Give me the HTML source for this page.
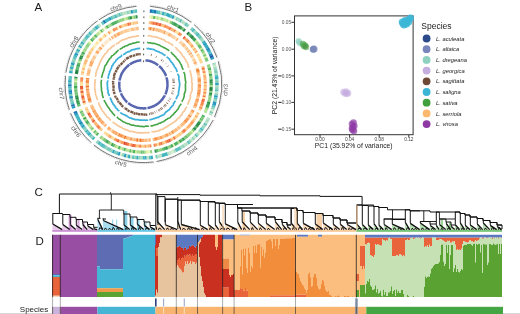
<!DOCTYPE html>
<html><head><meta charset="utf-8"><style>
html,body{margin:0;padding:0;background:#fff;width:520px;height:314px;overflow:hidden}
svg{display:block;filter:blur(0.3px)}
text{font-family:"Liberation Sans",sans-serif}
</style></head><body>
<svg width="520" height="314" viewBox="0 0 520 314">
<rect width="520" height="314" fill="#fff"/>
<text x="34.5" y="11" font-size="11.5" fill="#1a1a1a">A</text>
<text x="244.4" y="10.7" font-size="11.5" fill="#1a1a1a">B</text>
<text x="34.6" y="196.2" font-size="11.5" fill="#1a1a1a">C</text>
<text x="35.4" y="244.9" font-size="11.5" fill="#1a1a1a">D</text>
<path fill="none" stroke="#2073b2" stroke-width="3.5" d="M149.81 11.03A73.55 73.55 0 0 1 152.05 11.26M153.98 11.51A73.55 73.55 0 0 1 156.2 11.87M75.82 113.34A73.55 73.55 0 0 1 75.01 111.35M73.22 106.32A73.55 73.55 0 0 1 72.6 104.22M69.88 86.36A73.55 73.55 0 0 1 69.85 84.18M103.49 22.52A73.55 73.55 0 0 1 105.41 21.32"/>
<path fill="none" stroke="#269ac1" stroke-width="3.5" d="M151.9 11.24A73.55 73.55 0 0 1 154.13 11.54M172.12 16.59A73.55 73.55 0 0 1 174.18 17.5M204.4 43.2A73.55 73.55 0 0 1 205.58 45.01M211.85 57.39A73.55 73.55 0 0 1 212.61 59.41M216.94 83.07A73.55 73.55 0 0 1 216.94 85.28M216.11 95.38A73.55 73.55 0 0 1 215.75 97.56M214.93 101.44A73.55 73.55 0 0 1 214.38 103.58M214.42 103.43A73.55 73.55 0 0 1 213.81 105.56M126.19 155.81A73.55 73.55 0 0 1 124.04 155.26M120.23 154.1A73.55 73.55 0 0 1 118.13 153.37M83.65 127.19A73.55 73.55 0 0 1 82.43 125.43M76.64 115.16A73.55 73.55 0 0 1 75.76 113.2M73.86 108.25A73.55 73.55 0 0 1 73.18 106.17M70.55 94.45A73.55 73.55 0 0 1 70.28 92.28M72.42 65.02A73.55 73.55 0 0 1 73.04 62.86M75.86 55.18A73.55 73.55 0 0 1 76.78 53.14M108.93 19.33A73.55 73.55 0 0 1 110.94 18.3M130.73 11.85A73.55 73.55 0 0 1 132.96 11.49"/>
<path fill="none" stroke="#46b8c3" stroke-width="3.5" d="M156.05 11.85A73.55 73.55 0 0 1 158.26 12.27M192.58 29.61A73.55 73.55 0 0 1 194.16 31.08M196.89 33.81A73.55 73.55 0 0 1 198.35 35.41M202.24 128.43A73.55 73.55 0 0 1 200.88 130.19M167.68 153.73A73.55 73.55 0 0 1 165.57 154.43M165.71 154.38A73.55 73.55 0 0 1 163.58 155.03M163.73 154.98A73.55 73.55 0 0 1 161.59 155.57M144.63 157.84A73.55 73.55 0 0 1 142.41 157.84M103.49 146.08A73.55 73.55 0 0 1 101.65 144.85M100.09 143.74A73.55 73.55 0 0 1 98.31 142.41M94.28 139.04A73.55 73.55 0 0 1 92.7 137.59M87.34 131.91A73.55 73.55 0 0 1 85.97 130.25M82.51 125.56A73.55 73.55 0 0 1 81.33 123.76M79.36 120.48A73.55 73.55 0 0 1 78.33 118.59M78.41 118.73A73.55 73.55 0 0 1 77.43 116.82M77.5 116.96A73.55 73.55 0 0 1 76.57 115.02M69.96 88.39A73.55 73.55 0 0 1 69.87 86.21M75.06 57.11A73.55 73.55 0 0 1 75.92 55.04M86.71 37.44A73.55 73.55 0 0 1 88.16 35.74M89.46 34.3A73.55 73.55 0 0 1 91 32.68M105.27 21.4A73.55 73.55 0 0 1 107.22 20.26M107.09 20.34A73.55 73.55 0 0 1 109.07 19.25M114.63 16.61A73.55 73.55 0 0 1 116.72 15.76"/>
<path fill="none" stroke="#60c2c0" stroke-width="3.5" d="M158.11 12.24A73.55 73.55 0 0 1 160.31 12.72M170.18 15.8A73.55 73.55 0 0 1 172.26 16.65M179.65 20.3A73.55 73.55 0 0 1 181.59 21.44M184.99 23.63A73.55 73.55 0 0 1 186.82 24.94M209.42 51.88A73.55 73.55 0 0 1 210.34 53.83M216.34 74.86A73.55 73.55 0 0 1 216.59 77.05M216.78 89.24A73.55 73.55 0 0 1 216.6 91.44M215.77 97.41A73.55 73.55 0 0 1 215.35 99.58M213.85 105.41A73.55 73.55 0 0 1 213.19 107.52M205.75 123.32A73.55 73.55 0 0 1 204.54 125.18M196.91 134.76A73.55 73.55 0 0 1 195.36 136.36M189.3 141.77A73.55 73.55 0 0 1 187.55 143.13M180.79 147.64A73.55 73.55 0 0 1 178.86 148.74M179 148.66A73.55 73.55 0 0 1 177.03 149.71M177.17 149.64A73.55 73.55 0 0 1 175.18 150.63M150.82 157.47A73.55 73.55 0 0 1 148.61 157.67M134.32 157.29A73.55 73.55 0 0 1 132.12 156.98M118.27 153.42A73.55 73.55 0 0 1 116.2 152.63M105.25 147.18A73.55 73.55 0 0 1 103.36 146M101.77 144.94A73.55 73.55 0 0 1 99.96 143.65M88.65 133.41A73.55 73.55 0 0 1 87.24 131.79M72.64 104.37A73.55 73.55 0 0 1 72.08 102.26M70.1 90.41A73.55 73.55 0 0 1 69.96 88.24M69.85 84.33A73.55 73.55 0 0 1 69.88 82.15M69.96 80.27A73.55 73.55 0 0 1 70.11 78.1M70.1 78.25A73.55 73.55 0 0 1 70.31 76.08M74.32 59.05A73.55 73.55 0 0 1 75.12 56.96M85.4 39.07A73.55 73.55 0 0 1 86.81 37.32M97.06 27.18A73.55 73.55 0 0 1 98.82 25.8M101.74 23.69A73.55 73.55 0 0 1 103.62 22.44M110.81 18.37A73.55 73.55 0 0 1 112.84 17.4M118.55 15.08A73.55 73.55 0 0 1 120.68 14.35M134.9 11.24A73.55 73.55 0 0 1 137.14 11.02"/>
<path fill="none" stroke="#a7dbc2" stroke-width="3.5" d="M160.16 12.69A73.55 73.55 0 0 1 162.35 13.23M177.8 19.29A73.55 73.55 0 0 1 179.78 20.38M194.05 30.97A73.55 73.55 0 0 1 195.6 32.48M200.83 38.36A73.55 73.55 0 0 1 202.16 40.06M202.07 39.94A73.55 73.55 0 0 1 203.34 41.68M213.74 62.8A73.55 73.55 0 0 1 214.35 64.92M214.83 66.77A73.55 73.55 0 0 1 215.32 68.92M216.05 72.82A73.55 73.55 0 0 1 216.36 75.01M216.95 85.12A73.55 73.55 0 0 1 216.89 87.34M207.84 119.75A73.55 73.55 0 0 1 206.74 121.68M204.63 125.05A73.55 73.55 0 0 1 203.37 126.89M198.31 133.24A73.55 73.55 0 0 1 196.8 134.87M182.56 146.56A73.55 73.55 0 0 1 180.66 147.71M142.56 157.85A73.55 73.55 0 0 1 140.34 157.79M128.2 156.26A73.55 73.55 0 0 1 126.04 155.77M92.38 31.33A73.55 73.55 0 0 1 94.01 29.8M128.67 12.24A73.55 73.55 0 0 1 130.89 11.82"/>
<path fill="none" stroke="#35aac3" stroke-width="3.5" d="M162.2 13.19A73.55 73.55 0 0 1 164.37 13.8M166.23 14.38A73.55 73.55 0 0 1 168.36 15.11M168.21 15.06A73.55 73.55 0 0 1 170.32 15.85M203.25 41.56A73.55 73.55 0 0 1 204.48 43.33M205.5 44.88A73.55 73.55 0 0 1 206.63 46.73M206.55 46.59A73.55 73.55 0 0 1 207.63 48.46M208.51 50.09A73.55 73.55 0 0 1 209.49 52.02M216.58 76.9A73.55 73.55 0 0 1 216.77 79.11M152.87 157.24A73.55 73.55 0 0 1 150.67 157.49M146.7 157.78A73.55 73.55 0 0 1 144.48 157.84M138.43 157.68A73.55 73.55 0 0 1 136.22 157.5M130.23 156.66A73.55 73.55 0 0 1 128.05 156.23M114.43 151.9A73.55 73.55 0 0 1 112.4 151M90 134.87A73.55 73.55 0 0 1 88.54 133.29M80.37 122.2A73.55 73.55 0 0 1 79.29 120.34M69.88 82.3A73.55 73.55 0 0 1 69.97 80.12M70.7 73.17A73.55 73.55 0 0 1 71.07 70.97M71.44 69.07A73.55 73.55 0 0 1 71.94 66.89M77.62 51.4A73.55 73.55 0 0 1 78.65 49.41M79.59 47.72A73.55 73.55 0 0 1 80.74 45.79M81.77 44.16A73.55 73.55 0 0 1 83.02 42.3M95.46 28.52A73.55 73.55 0 0 1 97.18 27.08"/>
<path fill="none" stroke="#7acbbc" stroke-width="3.5" d="M164.22 13.76A73.55 73.55 0 0 1 166.37 14.43M191.07 28.29A73.55 73.55 0 0 1 192.69 29.71M195.49 32.37A73.55 73.55 0 0 1 196.99 33.93M198.24 35.29A73.55 73.55 0 0 1 199.66 36.92M199.56 36.81A73.55 73.55 0 0 1 200.93 38.48M215.7 70.79A73.55 73.55 0 0 1 216.07 72.97M216.88 81.01A73.55 73.55 0 0 1 216.94 83.22M216.39 93.34A73.55 73.55 0 0 1 216.09 95.53M211.84 111.25A73.55 73.55 0 0 1 210.99 113.29M157.7 156.45A73.55 73.55 0 0 1 155.51 156.85M116.34 152.69A73.55 73.55 0 0 1 114.29 151.84M110.68 150.17A73.55 73.55 0 0 1 108.7 149.15M108.84 149.22A73.55 73.55 0 0 1 106.89 148.15M91.39 136.3A73.55 73.55 0 0 1 89.89 134.76M84.84 128.8A73.55 73.55 0 0 1 83.56 127.07M72.12 102.41A73.55 73.55 0 0 1 71.61 100.29M71.64 100.44A73.55 73.55 0 0 1 71.19 98.3M70.86 96.46A73.55 73.55 0 0 1 70.53 94.3M71.9 67.04A73.55 73.55 0 0 1 72.46 64.87M73 63.01A73.55 73.55 0 0 1 73.68 60.88M76.71 53.27A73.55 73.55 0 0 1 77.69 51.26M88.06 35.85A73.55 73.55 0 0 1 89.56 34.19M93.9 29.9A73.55 73.55 0 0 1 95.58 28.42M112.7 17.46A73.55 73.55 0 0 1 114.77 16.55M132.81 11.52A73.55 73.55 0 0 1 135.05 11.23"/>
<path fill="none" stroke="#d5efcf" stroke-width="3.5" d="M174.04 17.44A73.55 73.55 0 0 1 176.07 18.41M212.56 109.32A73.55 73.55 0 0 1 211.78 111.39M199.66 131.67A73.55 73.55 0 0 1 198.2 133.35M173.44 151.43A73.55 73.55 0 0 1 171.4 152.31M122.2 154.73A73.55 73.55 0 0 1 120.08 154.06"/>
<path fill="none" stroke="#91d3be" stroke-width="3.5" d="M175.94 18.34A73.55 73.55 0 0 1 177.94 19.37M186.7 24.85A73.55 73.55 0 0 1 188.5 26.2M215.29 68.77A73.55 73.55 0 0 1 215.73 70.94M216.76 78.95A73.55 73.55 0 0 1 216.88 81.16M216.89 87.18A73.55 73.55 0 0 1 216.77 89.39M215.38 99.43A73.55 73.55 0 0 1 214.89 101.59M213.24 107.38A73.55 73.55 0 0 1 212.51 109.47M203.46 126.76A73.55 73.55 0 0 1 202.15 128.56M200.97 130.07A73.55 73.55 0 0 1 199.56 131.79M193.99 137.69A73.55 73.55 0 0 1 192.35 139.2M190.9 140.45A73.55 73.55 0 0 1 189.18 141.86M184.3 145.43A73.55 73.55 0 0 1 182.43 146.64M140.5 157.79A73.55 73.55 0 0 1 138.28 157.67M136.37 157.51A73.55 73.55 0 0 1 134.17 157.27M124.18 155.3A73.55 73.55 0 0 1 122.05 154.68M112.54 151.06A73.55 73.55 0 0 1 110.54 150.1M107.03 148.23A73.55 73.55 0 0 1 105.11 147.1M98.43 142.5A73.55 73.55 0 0 1 96.7 141.12M92.82 137.69A73.55 73.55 0 0 1 91.28 136.19M86.07 130.37A73.55 73.55 0 0 1 84.74 128.68M71.04 71.12A73.55 73.55 0 0 1 71.48 68.92M73.63 61.02A73.55 73.55 0 0 1 74.37 58.91M80.65 45.92A73.55 73.55 0 0 1 81.85 44.03M82.93 42.43A73.55 73.55 0 0 1 84.23 40.61M84.14 40.73A73.55 73.55 0 0 1 85.5 38.95M90.9 32.79A73.55 73.55 0 0 1 92.49 31.22M116.58 15.82A73.55 73.55 0 0 1 118.69 15.02M120.54 14.39A73.55 73.55 0 0 1 122.69 13.73M126.61 12.69A73.55 73.55 0 0 1 128.82 12.21"/>
<path fill="none" stroke="#bae2c6" stroke-width="3.5" d="M181.46 21.36A73.55 73.55 0 0 1 183.37 22.56M183.24 22.47A73.55 73.55 0 0 1 185.11 23.72M216.62 91.29A73.55 73.55 0 0 1 216.37 93.49M211.05 113.15A73.55 73.55 0 0 1 210.16 115.17M208.82 117.92A73.55 73.55 0 0 1 207.77 119.88M206.82 121.55A73.55 73.55 0 0 1 205.67 123.45M187.67 143.03A73.55 73.55 0 0 1 185.87 144.35M186 144.26A73.55 73.55 0 0 1 184.17 145.52M175.32 150.56A73.55 73.55 0 0 1 173.3 151.5M169.62 153.02A73.55 73.55 0 0 1 167.53 153.78M161.74 155.53A73.55 73.55 0 0 1 159.58 156.05M159.73 156.02A73.55 73.55 0 0 1 157.55 156.48M148.76 157.65A73.55 73.55 0 0 1 146.54 157.78M132.27 157A73.55 73.55 0 0 1 130.08 156.63M122.54 13.77A73.55 73.55 0 0 1 124.72 13.16M124.57 13.2A73.55 73.55 0 0 1 126.76 12.66"/>
<path fill="none" stroke="#1e88bc" stroke-width="3.5" d="M207.55 48.33A73.55 73.55 0 0 1 208.58 50.23M210.28 53.69A73.55 73.55 0 0 1 211.15 55.67M81.42 123.89A73.55 73.55 0 0 1 80.29 122.07M71.22 98.45A73.55 73.55 0 0 1 70.84 96.3M70.3 92.43A73.55 73.55 0 0 1 70.09 90.26"/>
<path fill="none" stroke="#225ea8" stroke-width="3.5" d="M211.09 55.53A73.55 73.55 0 0 1 211.91 57.53"/>
<path fill="none" stroke="#c7e9ca" stroke-width="3.5" d="M214.31 64.77A73.55 73.55 0 0 1 214.87 66.92M195.47 136.25A73.55 73.55 0 0 1 193.87 137.8M192.46 139.09A73.55 73.55 0 0 1 190.79 140.55M171.54 152.25A73.55 73.55 0 0 1 169.48 153.07M78.58 49.54A73.55 73.55 0 0 1 79.67 47.59M98.7 25.89A73.55 73.55 0 0 1 100.5 24.56"/>
<path fill="none" stroke="#eaf7b6" stroke-width="3.2" d="M149.31 16.76A67.8 67.8 0 0 1 151.37 16.97M168.08 21.15A67.8 67.8 0 0 1 170.01 21.94M150.24 151.75A67.8 67.8 0 0 1 148.2 151.93"/>
<path fill="none" stroke="#ceeb9e" stroke-width="3.2" d="M151.23 16.95A67.8 67.8 0 0 1 153.29 17.23M155.06 17.51A67.8 67.8 0 0 1 157.1 17.9M164.44 19.85A67.8 67.8 0 0 1 166.41 20.52M195.17 40.52A67.8 67.8 0 0 1 196.43 42.06M200.64 47.97A67.8 67.8 0 0 1 201.68 49.66M203.42 52.77A67.8 67.8 0 0 1 204.32 54.54M192.73 130.82A67.8 67.8 0 0 1 191.3 132.29M136.92 151.79A67.8 67.8 0 0 1 134.89 151.56M122.04 148.65A67.8 67.8 0 0 1 120.1 147.97M118.46 147.34A67.8 67.8 0 0 1 116.56 146.56M90.55 126.77A67.8 67.8 0 0 1 89.33 125.21M79.08 62.84A67.8 67.8 0 0 1 79.77 60.89M124.18 19.28A67.8 67.8 0 0 1 126.18 18.72"/>
<path fill="none" stroke="#66bd70" stroke-width="3.2" d="M153.15 17.21A67.8 67.8 0 0 1 155.2 17.54M176.81 25.3A67.8 67.8 0 0 1 178.6 26.36M188.73 33.89A67.8 67.8 0 0 1 190.2 35.24M198.58 44.9A67.8 67.8 0 0 1 199.71 46.54M199.63 46.42A67.8 67.8 0 0 1 200.72 48.09M201.61 49.54A67.8 67.8 0 0 1 202.61 51.27M210.43 94.51A67.8 67.8 0 0 1 210.09 96.52M201.86 118.63A67.8 67.8 0 0 1 200.8 120.39M196.47 126.49A67.8 67.8 0 0 1 195.17 128.08M187.19 136.06A67.8 67.8 0 0 1 185.6 137.36M182.67 139.57A67.8 67.8 0 0 1 180.98 140.73M163.97 148.9A67.8 67.8 0 0 1 162.01 149.5M158.45 150.41A67.8 67.8 0 0 1 156.44 150.83M142.63 152.1A67.8 67.8 0 0 1 140.58 152.04M131.26 151A67.8 67.8 0 0 1 129.25 150.61M114.95 145.84A67.8 67.8 0 0 1 113.11 144.96M106.61 141.25A67.8 67.8 0 0 1 104.91 140.12M95.45 132.24A67.8 67.8 0 0 1 94.07 130.82M81.86 112.75A67.8 67.8 0 0 1 81.05 110.94M79.29 106.37A67.8 67.8 0 0 1 78.67 104.46M76.02 91.8A67.8 67.8 0 0 1 75.82 89.79M77.07 70.26A67.8 67.8 0 0 1 77.53 68.25M77.49 68.39A67.8 67.8 0 0 1 78.01 66.39M78.5 64.68A67.8 67.8 0 0 1 79.13 62.71M100.69 31.65A67.8 67.8 0 0 1 102.31 30.37M116.88 21.9A67.8 67.8 0 0 1 118.81 21.12M127.92 18.29A67.8 67.8 0 0 1 129.96 17.85"/>
<path fill="none" stroke="#bce395" stroke-width="3.2" d="M156.96 17.87A67.8 67.8 0 0 1 158.99 18.32M162.59 19.27A67.8 67.8 0 0 1 164.58 19.89M166.27 20.47A67.8 67.8 0 0 1 168.22 21.2M206.49 109.14A67.8 67.8 0 0 1 205.71 111.03M205.77 110.9A67.8 67.8 0 0 1 204.94 112.76M146.44 152.03A67.8 67.8 0 0 1 144.39 152.09M129.39 150.64A67.8 67.8 0 0 1 127.39 150.18M111.54 144.15A67.8 67.8 0 0 1 109.75 143.16M103.47 139.1A67.8 67.8 0 0 1 101.84 137.87M88.78 44.14A67.8 67.8 0 0 1 90.02 42.49M96.37 35.47A67.8 67.8 0 0 1 97.87 34.06M97.77 34.15A67.8 67.8 0 0 1 99.32 32.79M102.2 30.46A67.8 67.8 0 0 1 103.86 29.23M105 28.42A67.8 67.8 0 0 1 106.73 27.27M131.72 17.51A67.8 67.8 0 0 1 133.78 17.19"/>
<path fill="none" stroke="#def2a8" stroke-width="3.2" d="M158.85 18.28A67.8 67.8 0 0 1 160.87 18.79M205.05 56.09A67.8 67.8 0 0 1 205.85 57.91M174.53 144.53A67.8 67.8 0 0 1 172.7 145.44M148.34 151.92A67.8 67.8 0 0 1 146.3 152.04M84.37 117.65A67.8 67.8 0 0 1 83.42 115.91M81.11 111.07A67.8 67.8 0 0 1 80.35 109.24M75.63 82.46A67.8 67.8 0 0 1 75.71 80.45M99.21 32.88A67.8 67.8 0 0 1 100.8 31.56"/>
<path fill="none" stroke="#92d284" stroke-width="3.2" d="M160.73 18.75A67.8 67.8 0 0 1 162.73 19.31M169.88 21.88A67.8 67.8 0 0 1 171.77 22.72M202.54 51.14A67.8 67.8 0 0 1 203.49 52.89M208.24 64.48A67.8 67.8 0 0 1 208.8 66.44M208.77 66.3A67.8 67.8 0 0 1 209.28 68.27M210.64 75.59A67.8 67.8 0 0 1 210.87 77.62M210.86 77.48A67.8 67.8 0 0 1 211.03 79.51M210.89 90.74A67.8 67.8 0 0 1 210.67 92.77M210.11 96.38A67.8 67.8 0 0 1 209.72 98.38M209.75 98.25A67.8 67.8 0 0 1 209.3 100.23M209.33 100.1A67.8 67.8 0 0 1 208.83 102.07M207.16 107.36A67.8 67.8 0 0 1 206.43 109.27M200.87 120.27A67.8 67.8 0 0 1 199.76 121.99M190.03 133.52A67.8 67.8 0 0 1 188.52 134.9M188.63 134.81A67.8 67.8 0 0 1 187.08 136.15M169.34 146.94A67.8 67.8 0 0 1 167.44 147.7M162.14 149.46A67.8 67.8 0 0 1 160.17 149.99M160.3 149.96A67.8 67.8 0 0 1 158.31 150.44M152.13 151.54A67.8 67.8 0 0 1 150.1 151.77M101.95 137.95A67.8 67.8 0 0 1 100.35 136.68M82.65 114.4A67.8 67.8 0 0 1 81.8 112.62M75.63 86.2A67.8 67.8 0 0 1 75.6 84.19M75.6 84.33A67.8 67.8 0 0 1 75.63 82.32M84.58 50.58A67.8 67.8 0 0 1 85.63 48.8M86.59 47.3A67.8 67.8 0 0 1 87.74 45.59M87.66 45.7A67.8 67.8 0 0 1 88.86 44.02M109.93 25.34A67.8 67.8 0 0 1 111.75 24.34M118.67 21.17A67.8 67.8 0 0 1 120.62 20.44M120.49 20.49A67.8 67.8 0 0 1 122.46 19.82M122.32 19.86A67.8 67.8 0 0 1 124.31 19.24"/>
<path fill="none" stroke="#4fb264" stroke-width="3.2" d="M171.65 22.66A67.8 67.8 0 0 1 173.52 23.56M209.25 68.14A67.8 67.8 0 0 1 209.7 70.12M211.19 83.16A67.8 67.8 0 0 1 211.19 85.2M203.7 115.29A67.8 67.8 0 0 1 202.74 117.1M177.87 142.68A67.8 67.8 0 0 1 176.09 143.7M176.21 143.63A67.8 67.8 0 0 1 174.41 144.6M165.78 148.3A67.8 67.8 0 0 1 163.83 148.95M135.03 151.58A67.8 67.8 0 0 1 133 151.3M125.69 149.75A67.8 67.8 0 0 1 123.72 149.18M120.24 148.02A67.8 67.8 0 0 1 118.32 147.29M98.12 134.76A67.8 67.8 0 0 1 96.67 133.42M88.32 123.84A67.8 67.8 0 0 1 87.19 122.22M87.27 122.33A67.8 67.8 0 0 1 86.19 120.68M77.69 101A67.8 67.8 0 0 1 77.22 99.04M91.14 41.11A67.8 67.8 0 0 1 92.48 39.53M95 36.82A67.8 67.8 0 0 1 96.47 35.37M106.61 27.35A67.8 67.8 0 0 1 108.38 26.25M111.63 24.41A67.8 67.8 0 0 1 113.48 23.46M113.35 23.52A67.8 67.8 0 0 1 115.23 22.63M115.1 22.69A67.8 67.8 0 0 1 117.01 21.85"/>
<path fill="none" stroke="#3ca459" stroke-width="3.2" d="M173.39 23.49A67.8 67.8 0 0 1 175.24 24.44M175.12 24.38A67.8 67.8 0 0 1 176.94 25.37M190.09 35.14A67.8 67.8 0 0 1 191.52 36.53M192.7 37.76A67.8 67.8 0 0 1 194.05 39.23M193.96 39.12A67.8 67.8 0 0 1 195.26 40.63M210.37 73.72A67.8 67.8 0 0 1 210.66 75.74M208.35 103.76A67.8 67.8 0 0 1 207.73 105.71M207.78 105.57A67.8 67.8 0 0 1 207.11 107.5M184.21 138.44A67.8 67.8 0 0 1 182.55 139.65M181.1 140.65A67.8 67.8 0 0 1 179.38 141.77M172.82 145.38A67.8 67.8 0 0 1 170.96 146.24M113.24 145.02A67.8 67.8 0 0 1 111.42 144.08M108.23 142.26A67.8 67.8 0 0 1 106.49 141.18M85.29 119.24A67.8 67.8 0 0 1 84.3 117.53M78.71 104.6A67.8 67.8 0 0 1 78.14 102.67M75.7 88.07A67.8 67.8 0 0 1 75.62 86.06M77.97 66.52A67.8 67.8 0 0 1 78.54 64.54M82.76 53.97A67.8 67.8 0 0 1 83.71 52.14"/>
<path fill="none" stroke="#238443" stroke-width="3.2" d="M178.48 26.28A67.8 67.8 0 0 1 180.24 27.38M183.31 29.49A67.8 67.8 0 0 1 184.97 30.74M187.34 32.67A67.8 67.8 0 0 1 188.84 33.98M191.42 36.43A67.8 67.8 0 0 1 192.8 37.86M211.15 86.96A67.8 67.8 0 0 1 211.04 88.99M211.05 88.85A67.8 67.8 0 0 1 210.88 90.89M198.76 123.44A67.8 67.8 0 0 1 197.55 125.1M195.26 127.97A67.8 67.8 0 0 1 193.92 129.52M77.25 99.18A67.8 67.8 0 0 1 76.84 97.21M76.38 74.04A67.8 67.8 0 0 1 76.72 72.01M76.7 72.15A67.8 67.8 0 0 1 77.1 70.12M80.4 59.23A67.8 67.8 0 0 1 81.2 57.32"/>
<path fill="none" stroke="#30944e" stroke-width="3.2" d="M180.12 27.31A67.8 67.8 0 0 1 181.85 28.46M211.02 79.37A67.8 67.8 0 0 1 211.14 81.41M211.13 81.27A67.8 67.8 0 0 1 211.19 83.3M210.69 92.63A67.8 67.8 0 0 1 210.41 94.65M208.87 101.94A67.8 67.8 0 0 1 208.31 103.9M199.84 121.87A67.8 67.8 0 0 1 198.68 123.56M197.64 124.98A67.8 67.8 0 0 1 196.38 126.6M167.57 147.65A67.8 67.8 0 0 1 165.64 148.35M156.58 150.81A67.8 67.8 0 0 1 154.57 151.17M78.17 102.8A67.8 67.8 0 0 1 77.65 100.86M76.87 97.35A67.8 67.8 0 0 1 76.51 95.36M75.83 78.72A67.8 67.8 0 0 1 76.03 76.72M81.14 57.45A67.8 67.8 0 0 1 81.99 55.57M129.82 17.87A67.8 67.8 0 0 1 131.86 17.49M135.56 16.95A67.8 67.8 0 0 1 137.63 16.75"/>
<path fill="none" stroke="#7cc87b" stroke-width="3.2" d="M181.73 28.38A67.8 67.8 0 0 1 183.43 29.58M204.26 54.42A67.8 67.8 0 0 1 205.11 56.22M205.8 57.78A67.8 67.8 0 0 1 206.55 59.62M206.5 59.49A67.8 67.8 0 0 1 207.2 61.36M202.81 116.98A67.8 67.8 0 0 1 201.79 118.76M194.01 129.41A67.8 67.8 0 0 1 192.63 130.92M185.72 137.27A67.8 67.8 0 0 1 184.1 138.53M171.09 146.19A67.8 67.8 0 0 1 169.21 146.99M144.53 152.09A67.8 67.8 0 0 1 142.49 152.09M109.87 143.23A67.8 67.8 0 0 1 108.11 142.19M105.03 140.2A67.8 67.8 0 0 1 103.36 139.01M92.93 129.57A67.8 67.8 0 0 1 91.63 128.08M83.49 116.04A67.8 67.8 0 0 1 82.59 114.28M76.53 95.5A67.8 67.8 0 0 1 76.23 93.51M76.25 93.66A67.8 67.8 0 0 1 76 91.66M75.83 89.94A67.8 67.8 0 0 1 75.7 87.93M79.72 61.03A67.8 67.8 0 0 1 80.46 59.1M81.93 55.7A67.8 67.8 0 0 1 82.83 53.84M92.39 39.64A67.8 67.8 0 0 1 93.77 38.11M133.64 17.21A67.8 67.8 0 0 1 135.7 16.94"/>
<path fill="none" stroke="#a9db8c" stroke-width="3.2" d="M196.34 41.95A67.8 67.8 0 0 1 197.57 43.52M197.48 43.41A67.8 67.8 0 0 1 198.66 45.01M209.67 69.99A67.8 67.8 0 0 1 210.07 71.99M210.05 71.85A67.8 67.8 0 0 1 210.39 73.86M211.2 85.06A67.8 67.8 0 0 1 211.14 87.1M191.4 132.19A67.8 67.8 0 0 1 189.93 133.61M179.5 141.69A67.8 67.8 0 0 1 177.75 142.76M140.72 152.05A67.8 67.8 0 0 1 138.68 151.94M138.82 151.95A67.8 67.8 0 0 1 136.78 151.78M133.14 151.32A67.8 67.8 0 0 1 131.12 150.98M127.53 150.22A67.8 67.8 0 0 1 125.55 149.71M123.85 149.22A67.8 67.8 0 0 1 121.9 148.6M116.69 146.62A67.8 67.8 0 0 1 114.82 145.78M96.77 133.52A67.8 67.8 0 0 1 95.35 132.14M91.72 128.18A67.8 67.8 0 0 1 90.46 126.66M89.42 125.32A67.8 67.8 0 0 1 88.24 123.73M86.26 120.8A67.8 67.8 0 0 1 85.22 119.12M75.7 80.59A67.8 67.8 0 0 1 75.84 78.58M83.65 52.26A67.8 67.8 0 0 1 84.65 50.46M85.56 48.93A67.8 67.8 0 0 1 86.66 47.18M93.67 38.21A67.8 67.8 0 0 1 95.1 36.72M108.26 26.32A67.8 67.8 0 0 1 110.05 25.27M126.04 18.76A67.8 67.8 0 0 1 128.06 18.26"/>
<path fill="none" stroke="#f7fcc4" stroke-width="3.2" d="M94.17 130.92A67.8 67.8 0 0 1 92.83 129.46M89.94 42.6A67.8 67.8 0 0 1 91.23 41"/>
<path fill="none" stroke="#febf7a" stroke-width="3" d="M148.79 22.64A61.9 61.9 0 0 1 150.68 22.83M162.61 25.46A61.9 61.9 0 0 1 164.4 26.07M188.41 41.81A61.9 61.9 0 0 1 189.64 43.15M190.66 44.33A61.9 61.9 0 0 1 191.82 45.73M202.6 66.2A61.9 61.9 0 0 1 203.11 67.99M203.52 69.54A61.9 61.9 0 0 1 203.93 71.36M201.61 105.36A61.9 61.9 0 0 1 200.95 107.1M198.45 112.59A61.9 61.9 0 0 1 197.57 114.25M193.94 120.03A61.9 61.9 0 0 1 192.84 121.55M180.66 133.73A61.9 61.9 0 0 1 179.15 134.84M176.36 136.7A61.9 61.9 0 0 1 174.76 137.67M142.7 146.2A61.9 61.9 0 0 1 140.83 146.15M139.22 146.06A61.9 61.9 0 0 1 137.36 145.9M137.49 145.92A61.9 61.9 0 0 1 135.63 145.71M130.61 144.86A61.9 61.9 0 0 1 128.79 144.45M120.63 141.86A61.9 61.9 0 0 1 118.9 141.14M100.83 129.24A61.9 61.9 0 0 1 99.53 127.97M97.32 125.63A61.9 61.9 0 0 1 96.13 124.27M95.15 123.07A61.9 61.9 0 0 1 94.04 121.65M88.7 113.28A61.9 61.9 0 0 1 87.88 111.67M87.21 110.27A61.9 61.9 0 0 1 86.48 108.62M83.85 101.19A61.9 61.9 0 0 1 83.37 99.42M82.35 94.53A61.9 61.9 0 0 1 82.07 92.71M81.88 91.15A61.9 61.9 0 0 1 81.7 89.32M82.5 73.21A61.9 61.9 0 0 1 82.87 71.36M84.68 64.71A61.9 61.9 0 0 1 85.31 62.93M85.26 63.05A61.9 61.9 0 0 1 85.93 61.29M87.28 58.19A61.9 61.9 0 0 1 88.1 56.49M88.04 56.61A61.9 61.9 0 0 1 88.91 54.93M89.7 53.51A61.9 61.9 0 0 1 90.66 51.89M99.21 40.95A61.9 61.9 0 0 1 100.55 39.63M100.46 39.72A61.9 61.9 0 0 1 101.84 38.43M104.4 36.23A61.9 61.9 0 0 1 105.89 35.06M120.83 26.66A61.9 61.9 0 0 1 122.61 26M124.16 25.47A61.9 61.9 0 0 1 125.97 24.9M125.85 24.94A61.9 61.9 0 0 1 127.68 24.43M132.74 23.32A61.9 61.9 0 0 1 134.62 23.03M136.24 22.82A61.9 61.9 0 0 1 138.13 22.62"/>
<path fill="none" stroke="#fa9d5e" stroke-width="3" d="M150.55 22.81A61.9 61.9 0 0 1 152.43 23.06M165.94 26.65A61.9 61.9 0 0 1 167.69 27.37M167.57 27.31A61.9 61.9 0 0 1 169.31 28.08M179.84 34.26A61.9 61.9 0 0 1 181.36 35.4M186.03 39.42A61.9 61.9 0 0 1 187.33 40.69M191.74 45.63A61.9 61.9 0 0 1 192.85 47.07M195.66 51.13A61.9 61.9 0 0 1 196.61 52.68M205.16 88.46A61.9 61.9 0 0 1 205.01 90.31M196.78 115.65A61.9 61.9 0 0 1 195.8 117.25M192.92 121.44A61.9 61.9 0 0 1 191.77 122.92M191.85 122.82A61.9 61.9 0 0 1 190.67 124.27M185.97 129.23A61.9 61.9 0 0 1 184.6 130.5M183.38 131.56A61.9 61.9 0 0 1 181.93 132.74M171.82 139.29A61.9 61.9 0 0 1 170.15 140.12M157.14 144.66A61.9 61.9 0 0 1 155.31 145.04M146.17 146.14A61.9 61.9 0 0 1 144.31 146.19M123.9 143.05A61.9 61.9 0 0 1 122.13 142.43M122.25 142.48A61.9 61.9 0 0 1 120.51 141.81M115.86 139.74A61.9 61.9 0 0 1 114.2 138.88M111.29 137.22A61.9 61.9 0 0 1 109.71 136.23M93.12 120.4A61.9 61.9 0 0 1 92.08 118.92M82.66 96.21A61.9 61.9 0 0 1 82.33 94.4M108.34 33.29A61.9 61.9 0 0 1 109.92 32.23M114.39 29.62A61.9 61.9 0 0 1 116.08 28.75M115.97 28.81A61.9 61.9 0 0 1 117.68 27.99"/>
<path fill="none" stroke="#f17140" stroke-width="3" d="M152.3 23.04A61.9 61.9 0 0 1 154.18 23.35M169.19 28.03A61.9 61.9 0 0 1 170.9 28.84M203.08 67.87A61.9 61.9 0 0 1 203.55 69.67M204.31 95.33A61.9 61.9 0 0 1 203.95 97.16M203.6 98.72A61.9 61.9 0 0 1 203.14 100.53M203.17 100.4A61.9 61.9 0 0 1 202.66 102.19M184.69 130.41A61.9 61.9 0 0 1 183.28 131.64M174.87 137.6A61.9 61.9 0 0 1 173.24 138.53M168.68 140.8A61.9 61.9 0 0 1 166.97 141.54M162.18 143.28A61.9 61.9 0 0 1 160.39 143.82M135.76 145.73A61.9 61.9 0 0 1 133.91 145.47M128.91 144.48A61.9 61.9 0 0 1 127.1 144.02M127.55 24.46A61.9 61.9 0 0 1 129.4 24"/>
<path fill="none" stroke="#f6874e" stroke-width="3" d="M154.05 23.32A61.9 61.9 0 0 1 155.91 23.68M157.51 24.03A61.9 61.9 0 0 1 159.35 24.49M164.28 26.03A61.9 61.9 0 0 1 166.06 26.7M173.9 30.44A61.9 61.9 0 0 1 175.54 31.4M178.4 33.24A61.9 61.9 0 0 1 179.95 34.34M187.24 40.6A61.9 61.9 0 0 1 188.5 41.9M203.9 71.23A61.9 61.9 0 0 1 204.27 73.06M205.24 81.53A61.9 61.9 0 0 1 205.29 83.39M204.83 91.91A61.9 61.9 0 0 1 204.57 93.75M202.7 102.07A61.9 61.9 0 0 1 202.13 103.84M202.17 103.72A61.9 61.9 0 0 1 201.56 105.48M201 106.98A61.9 61.9 0 0 1 200.29 108.7M167.09 141.49A61.9 61.9 0 0 1 165.35 142.18M160.51 143.79A61.9 61.9 0 0 1 158.71 144.28M155.44 145.02A61.9 61.9 0 0 1 153.6 145.35M151.37 145.68A61.9 61.9 0 0 1 149.52 145.9M140.96 146.15A61.9 61.9 0 0 1 139.09 146.05M132.32 145.2A61.9 61.9 0 0 1 130.48 144.84M117.43 140.49A61.9 61.9 0 0 1 115.74 139.68M99.63 128.07A61.9 61.9 0 0 1 98.37 126.77M98.46 126.86A61.9 61.9 0 0 1 97.23 125.53M91.24 117.62A61.9 61.9 0 0 1 90.28 116.09M90.35 116.2A61.9 61.9 0 0 1 89.44 114.63M83.41 99.54A61.9 61.9 0 0 1 82.98 97.76M81.59 80.91A61.9 61.9 0 0 1 81.72 79.08M81.71 79.21A61.9 61.9 0 0 1 81.89 77.38M112.84 30.47A61.9 61.9 0 0 1 114.51 29.56M119.19 27.33A61.9 61.9 0 0 1 120.95 26.62M129.27 24.03A61.9 61.9 0 0 1 131.13 23.63"/>
<path fill="none" stroke="#e85b35" stroke-width="3" d="M155.78 23.65A61.9 61.9 0 0 1 157.63 24.06M159.22 24.46A61.9 61.9 0 0 1 161.05 24.97M183.52 37.16A61.9 61.9 0 0 1 184.89 38.36M170.26 140.07A61.9 61.9 0 0 1 168.57 140.85M134.03 145.49A61.9 61.9 0 0 1 132.19 145.18M127.23 144.05A61.9 61.9 0 0 1 125.43 143.53M119.02 141.2A61.9 61.9 0 0 1 117.31 140.43M94.11 121.75A61.9 61.9 0 0 1 93.04 120.3M89.51 114.75A61.9 61.9 0 0 1 88.64 113.16M84.34 102.83A61.9 61.9 0 0 1 83.81 101.07M83.01 97.88A61.9 61.9 0 0 1 82.63 96.08M82.09 92.84A61.9 61.9 0 0 1 81.87 91.02M81.71 89.45A61.9 61.9 0 0 1 81.59 87.61M81.6 87.74A61.9 61.9 0 0 1 81.52 85.91"/>
<path fill="none" stroke="#fdb16e" stroke-width="3" d="M160.92 24.93A61.9 61.9 0 0 1 162.73 25.5M170.78 28.79A61.9 61.9 0 0 1 172.47 29.65M172.36 29.59A61.9 61.9 0 0 1 174.02 30.5M184.79 38.27A61.9 61.9 0 0 1 186.12 39.51M193.77 48.33A61.9 61.9 0 0 1 194.81 49.82M204.54 74.64A61.9 61.9 0 0 1 204.8 76.48M204.79 76.35A61.9 61.9 0 0 1 205 78.2M204.99 78.07A61.9 61.9 0 0 1 205.15 79.93M205.3 84.99A61.9 61.9 0 0 1 205.25 86.86M190.75 124.17A61.9 61.9 0 0 1 189.52 125.58M189.61 125.49A61.9 61.9 0 0 1 188.34 126.86M188.43 126.77A61.9 61.9 0 0 1 187.13 128.11M163.83 142.73A61.9 61.9 0 0 1 162.06 143.32M149.64 145.88A61.9 61.9 0 0 1 147.78 146.04M109.82 136.3A61.9 61.9 0 0 1 108.26 135.26M96.22 124.37A61.9 61.9 0 0 1 95.07 122.97M81.52 82.62A61.9 61.9 0 0 1 81.6 80.78M83.23 69.77A61.9 61.9 0 0 1 83.7 67.95M85.89 61.41A61.9 61.9 0 0 1 86.61 59.67"/>
<path fill="none" stroke="#ffe2a0" stroke-width="3" d="M175.43 31.33A61.9 61.9 0 0 1 177.04 32.34M176.93 32.27A61.9 61.9 0 0 1 178.51 33.32M192.77 46.97A61.9 61.9 0 0 1 193.85 48.43M198.2 55.51A61.9 61.9 0 0 1 199.02 57.13M198.96 57.02A61.9 61.9 0 0 1 199.74 58.66M203.98 97.03A61.9 61.9 0 0 1 203.57 98.85M195.87 117.14A61.9 61.9 0 0 1 194.86 118.71M114.31 138.94A61.9 61.9 0 0 1 112.68 138.04M105.56 133.28A61.9 61.9 0 0 1 104.09 132.12M81.52 86.04A61.9 61.9 0 0 1 81.5 84.2M81.5 84.33A61.9 61.9 0 0 1 81.53 82.49M82.84 71.48A61.9 61.9 0 0 1 83.26 69.64M83.67 68.07A61.9 61.9 0 0 1 84.19 66.26M84.15 66.38A61.9 61.9 0 0 1 84.72 64.59M86.56 59.79A61.9 61.9 0 0 1 87.33 58.07M92.51 49.06A61.9 61.9 0 0 1 93.61 47.53M96.83 43.53A61.9 61.9 0 0 1 98.09 42.13M103.06 37.35A61.9 61.9 0 0 1 104.5 36.15M109.81 32.3A61.9 61.9 0 0 1 111.42 31.3"/>
<path fill="none" stroke="#fecd87" stroke-width="3" d="M189.56 43.05A61.9 61.9 0 0 1 190.75 44.43M194.74 49.71A61.9 61.9 0 0 1 195.73 51.24M197.39 54.03A61.9 61.9 0 0 1 198.26 55.63M205.14 79.8A61.9 61.9 0 0 1 205.24 81.66M205.29 83.26A61.9 61.9 0 0 1 205.29 85.12M205.25 86.73A61.9 61.9 0 0 1 205.15 88.59M205.02 90.18A61.9 61.9 0 0 1 204.81 92.03M204.59 93.62A61.9 61.9 0 0 1 204.29 95.46M200.34 108.58A61.9 61.9 0 0 1 199.58 110.28M194.93 118.6A61.9 61.9 0 0 1 193.87 120.14M187.22 128.02A61.9 61.9 0 0 1 185.88 129.32M179.25 134.76A61.9 61.9 0 0 1 177.71 135.82M177.82 135.75A61.9 61.9 0 0 1 176.25 136.77M173.36 138.47A61.9 61.9 0 0 1 171.71 139.35M165.47 142.13A61.9 61.9 0 0 1 163.71 142.77M147.91 146.04A61.9 61.9 0 0 1 146.04 146.14M144.44 146.19A61.9 61.9 0 0 1 142.57 146.19M102.06 130.37A61.9 61.9 0 0 1 100.73 129.15M92.16 119.02A61.9 61.9 0 0 1 91.17 117.51M88.85 55.05A61.9 61.9 0 0 1 89.76 53.4M91.53 50.52A61.9 61.9 0 0 1 92.58 48.96M134.49 23.04A61.9 61.9 0 0 1 136.37 22.8"/>
<path fill="none" stroke="#fff7d0" stroke-width="3" d="M196.55 52.57A61.9 61.9 0 0 1 197.46 54.14M94.59 46.23A61.9 61.9 0 0 1 95.77 44.76M98 42.22A61.9 61.9 0 0 1 99.3 40.86M111.31 31.37A61.9 61.9 0 0 1 112.95 30.41"/>
<path fill="none" stroke="#fed894" stroke-width="3" d="M199.69 58.54A61.9 61.9 0 0 1 200.42 60.21M200.37 60.09A61.9 61.9 0 0 1 201.05 61.77M201.01 61.65A61.9 61.9 0 0 1 201.65 63.35M204.25 72.93A61.9 61.9 0 0 1 204.56 74.77M197.64 114.13A61.9 61.9 0 0 1 196.71 115.76M182.03 132.66A61.9 61.9 0 0 1 180.55 133.81M158.83 144.25A61.9 61.9 0 0 1 157.01 144.68M112.79 138.1A61.9 61.9 0 0 1 111.18 137.15M108.37 135.33A61.9 61.9 0 0 1 106.84 134.25M106.95 134.33A61.9 61.9 0 0 1 105.45 133.2M87.94 111.78A61.9 61.9 0 0 1 87.16 110.15M86.53 108.74A61.9 61.9 0 0 1 85.84 107.07M84.87 104.45A61.9 61.9 0 0 1 84.3 102.71M82.21 74.94A61.9 61.9 0 0 1 82.53 73.08M90.59 52A61.9 61.9 0 0 1 91.6 50.41M122.48 26.04A61.9 61.9 0 0 1 124.28 25.43M131 23.65A61.9 61.9 0 0 1 132.87 23.3"/>
<path fill="none" stroke="#e0452a" stroke-width="3" d="M125.56 143.57A61.9 61.9 0 0 1 123.77 143.01"/>
<path fill="none" stroke="#ffeaaf" stroke-width="3" d="M93.53 47.63A61.9 61.9 0 0 1 94.67 46.13M95.69 44.86A61.9 61.9 0 0 1 96.91 43.43"/>
<path fill="none" stroke="#fff1bf" stroke-width="3" d="M101.74 38.52A61.9 61.9 0 0 1 103.15 37.27M105.78 35.14A61.9 61.9 0 0 1 107.3 34.02M117.57 28.05A61.9 61.9 0 0 1 119.31 27.28"/>
<path fill="none" stroke="#fdb06e" stroke-width="3.3" d="M148.29 28.46A56.05 56.05 0 0 1 149.99 28.64M156.18 29.73A56.05 56.05 0 0 1 157.84 30.14M168.19 34.03A56.05 56.05 0 0 1 169.72 34.82M176.4 38.99A56.05 56.05 0 0 1 177.77 40.02M183.1 44.73A56.05 56.05 0 0 1 184.24 45.91M188.11 50.49A56.05 56.05 0 0 1 189.08 51.82M198.99 77.1A56.05 56.05 0 0 1 199.18 78.78M199.44 83.36A56.05 56.05 0 0 1 199.45 85.05M199.32 88.06A56.05 56.05 0 0 1 199.18 89.74M192.51 111.31A56.05 56.05 0 0 1 191.67 112.78M185.24 121.59A56.05 56.05 0 0 1 184.1 122.84M183.08 123.89A56.05 56.05 0 0 1 181.86 125.07M177.14 129.06A56.05 56.05 0 0 1 175.77 130.06M170.53 133.35A56.05 56.05 0 0 1 169.03 134.15M166.3 135.46A56.05 56.05 0 0 1 164.74 136.13M158.9 138.17A56.05 56.05 0 0 1 157.26 138.61M150.62 139.88A56.05 56.05 0 0 1 148.94 140.08M144.34 140.34A56.05 56.05 0 0 1 142.65 140.34M127.24 137.97A56.05 56.05 0 0 1 125.63 137.46M115.68 133.02A56.05 56.05 0 0 1 114.22 132.16M110.39 129.6A56.05 56.05 0 0 1 109.04 128.58M109.13 128.65A56.05 56.05 0 0 1 107.81 127.6M105.97 126.02A56.05 56.05 0 0 1 104.77 124.91M103.76 123.93A56.05 56.05 0 0 1 102.62 122.76M101.67 121.72A56.05 56.05 0 0 1 100.6 120.49M100.67 120.58A56.05 56.05 0 0 1 99.63 119.32M97 115.74A56.05 56.05 0 0 1 96.1 114.37M95.36 113.18A56.05 56.05 0 0 1 94.54 111.77M92.52 107.82A56.05 56.05 0 0 1 91.86 106.32M90.4 102.55A56.05 56.05 0 0 1 89.89 100.97M88.12 93.56A56.05 56.05 0 0 1 87.87 91.92M87.89 92.03A56.05 56.05 0 0 1 87.68 90.38M90.23 66.56A56.05 56.05 0 0 1 90.8 64.95M90.76 65.06A56.05 56.05 0 0 1 91.37 63.47M96.43 53.71A56.05 56.05 0 0 1 97.39 52.3M111.65 38.11A56.05 56.05 0 0 1 113.09 37.16M118.56 34.05A56.05 56.05 0 0 1 120.11 33.32"/>
<path fill="none" stroke="#f3873c" stroke-width="3.3" d="M149.88 28.63A56.05 56.05 0 0 1 151.58 28.85M153.04 29.09A56.05 56.05 0 0 1 154.73 29.41M199.45 84.93A56.05 56.05 0 0 1 199.4 86.61M198.81 92.74A56.05 56.05 0 0 1 198.53 94.4M190.06 115.36A56.05 56.05 0 0 1 189.1 116.75M186.28 120.4A56.05 56.05 0 0 1 185.16 121.68M173.24 131.74A56.05 56.05 0 0 1 171.79 132.63M119.88 135.18A56.05 56.05 0 0 1 118.36 134.44M89.92 101.08A56.05 56.05 0 0 1 89.45 99.48M89.48 99.6A56.05 56.05 0 0 1 89.05 97.99M87.54 79.69A56.05 56.05 0 0 1 87.7 78.03"/>
<path fill="none" stroke="#fdc68d" stroke-width="3.3" d="M151.46 28.83A56.05 56.05 0 0 1 153.16 29.11M157.73 30.11A56.05 56.05 0 0 1 159.38 30.58M160.79 31.02A56.05 56.05 0 0 1 162.42 31.58M162.31 31.54A56.05 56.05 0 0 1 163.92 32.14M182 43.66A56.05 56.05 0 0 1 183.18 44.81M193.71 59.6A56.05 56.05 0 0 1 194.42 61.08M197 67.91A56.05 56.05 0 0 1 197.47 69.53M198.19 72.47A56.05 56.05 0 0 1 198.52 74.12M198.5 74A56.05 56.05 0 0 1 198.78 75.67M199.39 81.79A56.05 56.05 0 0 1 199.44 83.48M194.96 106.29A56.05 56.05 0 0 1 194.27 107.83M190.91 114.03A56.05 56.05 0 0 1 189.99 115.45M189.17 116.66A56.05 56.05 0 0 1 188.17 118.03M181.95 124.99A56.05 56.05 0 0 1 180.7 126.13M171.9 132.57A56.05 56.05 0 0 1 170.42 133.4M169.14 134.09A56.05 56.05 0 0 1 167.62 134.85M164.85 136.08A56.05 56.05 0 0 1 163.27 136.71M154.3 139.28A56.05 56.05 0 0 1 152.63 139.58M139.61 140.22A56.05 56.05 0 0 1 137.93 140.08M133.36 139.44A56.05 56.05 0 0 1 131.7 139.12M130.28 138.79A56.05 56.05 0 0 1 128.64 138.37M118.46 134.5A56.05 56.05 0 0 1 116.96 133.72M112.99 131.38A56.05 56.05 0 0 1 111.58 130.44M98.77 118.21A56.05 56.05 0 0 1 97.8 116.89M91.9 106.43A56.05 56.05 0 0 1 91.28 104.92M87.54 88.96A56.05 56.05 0 0 1 87.43 87.3M87.37 85.87A56.05 56.05 0 0 1 87.35 84.21M87.35 84.32A56.05 56.05 0 0 1 87.37 82.66M87.99 75.82A56.05 56.05 0 0 1 88.28 74.14M109.34 39.79A56.05 56.05 0 0 1 110.71 38.77M120.01 33.36A56.05 56.05 0 0 1 121.58 32.67M121.47 32.72A56.05 56.05 0 0 1 123.07 32.07M124.46 31.55A56.05 56.05 0 0 1 126.09 30.99M125.98 31.03A56.05 56.05 0 0 1 127.62 30.52M130.61 29.73A56.05 56.05 0 0 1 132.29 29.36M135.33 28.83A56.05 56.05 0 0 1 137.04 28.61"/>
<path fill="none" stroke="#fdd09f" stroke-width="3.3" d="M154.61 29.38A56.05 56.05 0 0 1 156.29 29.75M171.02 35.53A56.05 56.05 0 0 1 172.5 36.4M172.4 36.34A56.05 56.05 0 0 1 173.86 37.25M173.76 37.18A56.05 56.05 0 0 1 175.19 38.14M179.73 41.62A56.05 56.05 0 0 1 180.97 42.7M184.16 45.83A56.05 56.05 0 0 1 185.27 47.04M194.37 60.98A56.05 56.05 0 0 1 195.03 62.48M197.91 97.36A56.05 56.05 0 0 1 197.49 98.99M191.73 112.68A56.05 56.05 0 0 1 190.85 114.13M178.38 128.09A56.05 56.05 0 0 1 177.04 129.13M149.05 140.06A56.05 56.05 0 0 1 147.37 140.21M104.85 124.99A56.05 56.05 0 0 1 103.68 123.85M92.58 60.66A56.05 56.05 0 0 1 93.32 59.12M93.27 59.22A56.05 56.05 0 0 1 94.06 57.71M115.73 35.56A56.05 56.05 0 0 1 117.24 34.73M122.96 32.11A56.05 56.05 0 0 1 124.57 31.51M127.51 30.55A56.05 56.05 0 0 1 129.16 30.09M133.75 29.09A56.05 56.05 0 0 1 135.45 28.82"/>
<path fill="none" stroke="#fdbb7e" stroke-width="3.3" d="M159.27 30.54A56.05 56.05 0 0 1 160.91 31.05M169.62 34.76A56.05 56.05 0 0 1 171.12 35.59M186.2 48.11A56.05 56.05 0 0 1 187.24 49.38M191.52 55.56A56.05 56.05 0 0 1 192.35 56.99M198.25 95.83A56.05 56.05 0 0 1 197.88 97.47M196.62 101.88A56.05 56.05 0 0 1 196.07 103.48M184.18 122.76A56.05 56.05 0 0 1 183 123.97M179.6 127.09A56.05 56.05 0 0 1 178.29 128.17M175.86 129.99A56.05 56.05 0 0 1 174.47 130.95M174.57 130.89A56.05 56.05 0 0 1 173.14 131.81M163.38 136.67A56.05 56.05 0 0 1 161.79 137.25M160.4 137.71A56.05 56.05 0 0 1 158.78 138.2M147.48 140.2A56.05 56.05 0 0 1 145.79 140.3M145.91 140.29A56.05 56.05 0 0 1 144.22 140.34M136.48 139.92A56.05 56.05 0 0 1 134.8 139.69M134.92 139.7A56.05 56.05 0 0 1 133.25 139.42M128.76 138.4A56.05 56.05 0 0 1 127.13 137.94M124.25 136.98A56.05 56.05 0 0 1 122.67 136.38M93.87 110.54A56.05 56.05 0 0 1 93.13 109.08M93.18 109.19A56.05 56.05 0 0 1 92.47 107.71M88.26 74.25A56.05 56.05 0 0 1 88.59 72.58M88.56 72.69A56.05 56.05 0 0 1 88.94 71.03M88.92 71.14A56.05 56.05 0 0 1 89.34 69.49M91.93 62.11A56.05 56.05 0 0 1 92.63 60.55M94 57.81A56.05 56.05 0 0 1 94.83 56.32M99.2 49.83A56.05 56.05 0 0 1 100.27 48.5M102.29 46.2A56.05 56.05 0 0 1 103.47 44.97M132.17 29.39A56.05 56.05 0 0 1 133.86 29.07M136.92 28.63A56.05 56.05 0 0 1 138.63 28.45"/>
<path fill="none" stroke="#fba35e" stroke-width="3.3" d="M163.81 32.1A56.05 56.05 0 0 1 165.39 32.75M189.88 52.98A56.05 56.05 0 0 1 190.78 54.36M194.98 62.38A56.05 56.05 0 0 1 195.61 63.9M199.41 86.5A56.05 56.05 0 0 1 199.32 88.18M198.55 94.29A56.05 56.05 0 0 1 198.23 95.94M197.09 100.39A56.05 56.05 0 0 1 196.58 102M196.11 103.37A56.05 56.05 0 0 1 195.51 104.94M195.55 104.84A56.05 56.05 0 0 1 194.91 106.39M188.24 117.93A56.05 56.05 0 0 1 187.2 119.27M187.27 119.18A56.05 56.05 0 0 1 186.2 120.49M117.06 133.78A56.05 56.05 0 0 1 115.58 132.96M114.32 132.22A56.05 56.05 0 0 1 112.89 131.32M102.7 122.84A56.05 56.05 0 0 1 101.6 121.64M96.17 114.47A56.05 56.05 0 0 1 95.3 113.08M89.08 98.1A56.05 56.05 0 0 1 88.69 96.48M88.72 96.6A56.05 56.05 0 0 1 88.37 94.97M91.32 63.58A56.05 56.05 0 0 1 91.98 62M97.32 52.39A56.05 56.05 0 0 1 98.31 51M100.2 48.59A56.05 56.05 0 0 1 101.3 47.29M114.35 36.37A56.05 56.05 0 0 1 115.83 35.5M117.13 34.79A56.05 56.05 0 0 1 118.67 34"/>
<path fill="none" stroke="#fedab1" stroke-width="3.3" d="M165.29 32.7A56.05 56.05 0 0 1 166.86 33.39M166.75 33.35A56.05 56.05 0 0 1 168.3 34.08M180.88 42.62A56.05 56.05 0 0 1 182.09 43.74M185.19 46.95A56.05 56.05 0 0 1 186.27 48.2M187.17 49.29A56.05 56.05 0 0 1 188.18 50.59M189.01 51.73A56.05 56.05 0 0 1 189.95 53.08M190.72 54.26A56.05 56.05 0 0 1 191.58 55.67M193.02 58.23A56.05 56.05 0 0 1 193.76 59.7M198.76 75.55A56.05 56.05 0 0 1 199 77.22M180.79 126.06A56.05 56.05 0 0 1 179.51 127.17M111.68 130.51A56.05 56.05 0 0 1 110.3 129.53M89.31 69.6A56.05 56.05 0 0 1 89.78 67.96M112.99 37.22A56.05 56.05 0 0 1 114.45 36.31M129.05 30.12A56.05 56.05 0 0 1 130.72 29.7"/>
<path fill="none" stroke="#fee3c1" stroke-width="3.3" d="M175.09 38.07A56.05 56.05 0 0 1 176.49 39.06M192.29 56.89A56.05 56.05 0 0 1 193.07 58.34M195.56 63.79A56.05 56.05 0 0 1 196.14 65.33M94.77 56.42A56.05 56.05 0 0 1 95.65 54.96M98.24 51.1A56.05 56.05 0 0 1 99.27 49.74M105.68 42.84A56.05 56.05 0 0 1 106.96 41.71"/>
<path fill="none" stroke="#ed7624" stroke-width="3.3" d="M197.44 69.42A56.05 56.05 0 0 1 197.86 71.05M141.19 140.31A56.05 56.05 0 0 1 139.5 140.21M138.04 140.09A56.05 56.05 0 0 1 136.36 139.91M125.74 137.5A56.05 56.05 0 0 1 124.14 136.94M87.44 87.42A56.05 56.05 0 0 1 87.37 85.75M87.37 82.78A56.05 56.05 0 0 1 87.44 81.12"/>
<path fill="none" stroke="#f8964e" stroke-width="3.3" d="M197.83 70.94A56.05 56.05 0 0 1 198.21 72.58M199.17 78.66A56.05 56.05 0 0 1 199.31 80.34M199.3 80.23A56.05 56.05 0 0 1 199.4 81.91M199.2 89.63A56.05 56.05 0 0 1 199.01 91.3M199.03 91.19A56.05 56.05 0 0 1 198.79 92.86M197.52 98.88A56.05 56.05 0 0 1 197.06 100.5M193.25 109.92A56.05 56.05 0 0 1 192.45 111.42M167.73 134.8A56.05 56.05 0 0 1 166.19 135.51M161.9 137.21A56.05 56.05 0 0 1 160.29 137.74M157.37 138.58A56.05 56.05 0 0 1 155.73 138.98M155.84 138.95A56.05 56.05 0 0 1 154.18 139.3M142.76 140.35A56.05 56.05 0 0 1 141.07 140.3M131.82 139.14A56.05 56.05 0 0 1 130.17 138.77M122.78 136.42A56.05 56.05 0 0 1 121.21 135.77M121.32 135.82A56.05 56.05 0 0 1 119.78 135.13M99.71 119.41A56.05 56.05 0 0 1 98.7 118.12M97.87 116.99A56.05 56.05 0 0 1 96.93 115.65M94.6 111.87A56.05 56.05 0 0 1 93.82 110.43M88.4 95.08A56.05 56.05 0 0 1 88.1 93.45M87.69 90.5A56.05 56.05 0 0 1 87.53 88.84M87.43 81.23A56.05 56.05 0 0 1 87.55 79.57"/>
<path fill="none" stroke="#fff0dc" stroke-width="3.3" d="M89.75 68.08A56.05 56.05 0 0 1 90.27 66.45M95.58 55.06A56.05 56.05 0 0 1 96.5 53.61M103.39 45.05A56.05 56.05 0 0 1 104.6 43.85M108.09 40.77A56.05 56.05 0 0 1 109.43 39.72"/>
<path fill="none" stroke="#ffe9cf" stroke-width="3.3" d="M101.23 47.38A56.05 56.05 0 0 1 102.37 46.11M104.52 43.93A56.05 56.05 0 0 1 105.76 42.76M106.87 41.79A56.05 56.05 0 0 1 108.18 40.7"/>
<path fill="none" stroke="#f6c89a" stroke-width="1.7" stroke-linejoin="round" d="M147.63 35.9L148.42 35.79L149.21 35.67L149.99 35.74L150.74 35.95L151.47 36.29L152.18 36.68L153.01 36.48L153.78 36.57L154.56 36.64L155.26 37.03L156.01 37.2L156.82 37.19L157.58 37.36L158.29 37.68L158.96 38.14L159.67 38.45L160.47 38.51L161.13 38.93L161.88 39.15L162.59 39.44L163.37 39.6L164.1 39.88L164.68 40.45L165.23 41.08L165.9 41.47L166.6 41.77L167.34 42.03L168.11 42.24L168.86 42.5L169.32 43.22L170.09 43.46L170.8 43.78L171.49 44.14L172.07 44.68L172.55 45.32L173.28 45.64M175.04 47.12L175.66 47.61L176.35 48.03L176.78 48.73L177.16 49.48L177.78 49.97L178.47 50.4L178.85 51.12L179.52 51.58L180.2 52.03L180.51 52.8L181.06 53.38L181.61 53.95L182.03 54.62L182.35 55.36L182.75 56.05L183.38 56.56L183.96 57.13L184.32 57.84L184.52 58.64L185.14 59.18L185.65 59.8L185.84 60.6L186.27 61.26L186.83 61.86L187.3 62.51L187.53 63.28L187.77 64.04L188.09 64.76L188.19 65.58L188.37 66.35L188.57 67.11L189.07 67.77M189.85 70.1L190.13 70.82L190.29 71.57L190.52 72.31L190.52 73.1L190.53 73.88L191.11 74.54L191.17 75.31L191.11 76.1L191.4 76.83L191.7 77.57L191.56 78.36L191.75 79.11L191.75 79.89L191.86 80.65L191.67 81.43L191.56 82.2L192.04 82.95L192.26 83.72L192.17 84.49L192.15 85.26L191.95 86.03L192.1 86.8L191.97 87.57L192.15 88.36L192.12 89.13L192.09 89.91L192.11 90.69L191.68 91.41L191.24 92.13L191.02 92.86L190.81 93.6L190.56 94.33L190.32 95.06L190.37 95.86L190.49 96.68L190.25 97.41L190.28 98.22L190.17 99L189.56 99.61L189.37 100.36L189.04 101.06L188.58 101.71L188.62 102.55L188.16 103.2L187.91 103.93L187.67 104.66M186.9 106.65L186.53 107.33L186.03 107.93L185.59 108.57L185.03 109.13L184.92 109.95L184.69 110.72L184.02 111.2L183.35 111.67L182.88 112.27L182.45 112.9L182.26 113.71L181.94 114.43L181.52 115.09L180.73 115.43L180.37 116.13L179.91 116.75L179.4 117.32L179.02 118.02L178.19 118.29L177.51 118.69L177.13 119.39L176.73 120.09L176.16 120.61L175.45 120.96L174.89 121.48L174.37 122.06L173.59 122.31L172.95 122.74L172.3 123.14L171.62 123.5L171.07 124.04L170.39 124.39L169.74 124.8L169.07 125.15L168.56 125.77L167.79 125.98L167.26 126.59L166.53 126.84L165.78 127.05L165.28 127.75L164.53 127.95L163.97 128.55L163.33 129L162.66 129.4L161.81 129.37L161.09 129.61L160.29 129.68L159.69 130.25L159.01 130.64L158.27 130.86L157.5 130.97L156.73 131.06L156.04 131.45L155.28 131.57L154.54 131.78L153.74 131.71L152.97 131.76L152.2 131.75L151.49 132.16M149.67 132.57L148.87 132.46L148.13 132.82L147.34 132.72L146.57 132.75L145.78 132.64L145.01 132.65L144.24 132.97L143.46 132.87L142.69 132.71L141.91 132.78L141.14 132.71L140.35 132.97L139.59 132.65L138.79 132.91L138.05 132.51L137.24 132.7L136.46 132.63L135.73 132.28L134.96 132.17L134.22 131.93L133.47 131.7L132.73 131.46L131.97 131.32L131.13 131.5L130.31 131.52L129.53 131.4L128.9 130.79L128.2 130.42L127.38 130.41L126.76 129.86L125.96 129.76L125.29 129.35L124.45 129.34L123.88 128.7L123.07 128.59L122.42 128.15L121.81 127.65L121.2 127.13L120.36 127.08L119.66 126.74L119.06 126.21L118.38 125.85L117.56 125.69L117.02 125.09L116.33 124.72L115.81 124.12L115.23 123.59L114.44 123.36L113.74 122.99L113.26 122.35L112.78 121.71M111.06 120.34L110.39 119.93L109.81 119.42L109.33 118.81L108.86 118.19L108.21 117.75L107.57 117.3L106.93 116.82L106.45 116.21L106.13 115.47L105.81 114.74L105.14 114.29L104.7 113.65L104.11 113.12L103.89 112.33L103.24 111.85L102.9 111.14L102.29 110.61L101.76 110.03L101.46 109.3L101.37 108.46L100.73 107.94L100.42 107.22L99.9 106.62L99.75 105.83L99.58 105.05L99.03 104.46L98.81 103.71L98.68 102.93L98.38 102.22M97.35 100.16L97.39 99.34L97.05 98.64L96.81 97.91L96.55 97.19L96.54 96.4L96.14 95.72L95.78 95.01L95.48 94.29L95.54 93.49L95.32 92.75L95.32 91.97L95.08 91.23L95.29 90.42L94.93 89.69L94.65 88.95L94.71 88.17L94.73 87.4L94.71 86.63L94.7 85.86L94.98 85.08L94.62 84.32L94.83 83.56L95 82.79L95.16 82.04L95.2 81.28L94.93 80.49L95.25 79.75L95.44 79M95.2 76.92L95.54 76.2L95.89 75.48L95.86 74.69L95.92 73.91L96.06 73.15L96.13 72.37L96.58 71.69L96.52 70.88L96.67 70.11L97.21 69.47L97.6 68.79L97.75 68.03L97.94 67.28L98.29 66.59L98.7 65.92L98.93 65.19L99.34 64.52L99.48 63.75L99.57 62.93L100.13 62.35L100.4 61.62L100.63 60.87L101.22 60.31L101.4 59.52L101.63 58.75L102.2 58.19L102.7 57.59L102.98 56.85L103.48 56.25L104.02 55.69L104.29 54.93L104.72 54.28L105.37 53.8L106 53.32L106.54 52.77L107.03 52.17L107.31 51.38L107.77 50.75L108.23 50.11L108.76 49.54L109.3 48.98L110.16 48.75L110.73 48.23L111.14 47.53L111.64 46.92L112.43 46.65L113.08 46.23L113.65 45.7L114.33 45.32L114.94 44.84M115.98 44.41L116.59 43.92L117.21 43.43L117.99 43.21L118.69 42.86L119.14 42.1L119.76 41.59L120.36 41.06L121.09 40.75L121.77 40.34L122.44 39.93L123.14 39.55L124.04 39.65L124.74 39.27L125.52 39.14L126.21 38.73L126.99 38.6L127.71 38.28L128.38 37.8L129.13 37.58L129.94 37.57L130.69 37.34L131.46 37.18L132.16 36.73L132.97 36.76L133.76 36.71L134.5 36.45L135.31 36.53L136.06 36.27L136.8 35.88L137.59 35.86L138.39 35.96L139.16 35.88"/>
<path fill="none" stroke="#45a648" stroke-width="1.6" stroke-linejoin="round" d="M147.08 42.19L147.73 42.45L148.38 42.65L149.03 42.8L149.69 42.85L150.36 42.88L151.02 43L151.66 43.16L152.29 43.39L152.98 43.36L153.69 43.27L154.35 43.4L155 43.58L155.66 43.73L156.23 44.13L156.91 44.2L157.53 44.46L158.17 44.68L158.81 44.87L159.42 45.17L159.99 45.53L160.56 45.89L161.14 46.23L161.79 46.42L162.38 46.72L163.02 46.93L163.5 47.46L164.1 47.75L164.82 47.84L165.32 48.31L165.93 48.6L166.49 48.95L166.99 49.41L167.72 49.54L168.16 50.07L168.79 50.35L169.18 50.94M170.64 52.3L171.34 52.53L171.81 53.03L172.16 53.66L172.67 54.1L173.19 54.55L173.8 54.91L174.11 55.55L174.52 56.1L175.23 56.39L175.75 56.85L176 57.53L176.38 58.1L176.78 58.65L177.32 59.11L177.77 59.62L178.29 60.09L178.75 60.62L179.03 61.25L179.44 61.81L179.83 62.38L180.21 62.96L180.43 63.62L180.83 64.18L181.16 64.79L181.58 65.35L181.57 66.12L182.02 66.66L181.99 67.43L182.44 67.98L182.71 68.61L182.93 69.26L183.38 69.83M183.84 71.94L183.97 72.59L184.31 73.2L184.61 73.81L184.72 74.48L184.72 75.16L184.81 75.83L184.91 76.49L185.15 77.13L185.11 77.81L185.16 78.48L185.31 79.13L185.34 79.8L185.34 80.47L185.6 81.12L185.8 81.78L185.74 82.45L185.68 83.13L185.51 83.8L185.47 84.46L185.35 85.13L185.49 85.8L185.55 86.47L185.32 87.12L185.58 87.81L185.4 88.46L185.52 89.15L185.55 89.83L185.59 90.52L185.18 91.13L185 91.78L185.08 92.48L184.61 93.07L184.28 93.67L184.28 94.36L184.17 95.02L184.24 95.73L184.13 96.4L183.86 97.02L183.84 97.72L183.5 98.31L183.19 98.92L182.99 99.56L182.63 100.13L182.28 100.71L182.08 101.35L181.73 101.93M181.18 103.72L180.87 104.31L180.48 104.86L179.92 105.31L179.57 105.87L179.23 106.44L178.95 107.04L178.64 107.63L178.42 108.29L178.17 108.93L177.66 109.39L177.17 109.85L176.78 110.4L176.53 111.05L175.94 111.43L175.48 111.92L175.14 112.51L174.5 112.83L174 113.26L173.75 113.95L173.35 114.49L172.8 114.89L172.13 115.15L171.8 115.78L171.33 116.25L170.88 116.76L170.46 117.29L169.96 117.74L169.29 117.98L168.6 118.16L168.01 118.48L167.5 118.91L166.97 119.31L166.34 119.56L165.73 119.84L165.26 120.34L164.74 120.76L164.13 121.03L163.68 121.6L163.09 121.9L162.35 121.93L161.76 122.22L161.24 122.68L160.58 122.84L160.02 123.22L159.3 123.21L158.68 123.44L158.15 123.93L157.54 124.19L156.93 124.46L156.23 124.47L155.61 124.7L154.98 124.93L154.31 124.99L153.7 125.28L153.06 125.45L152.46 125.84L151.79 125.91L151.11 125.91L150.42 125.81M148.82 126.02L148.17 126.31L147.48 126.16L146.8 126.09L146.13 126.1L145.47 126.29L144.81 126.57L144.13 126.63L143.46 126.76L142.78 126.44L142.11 126.22L141.43 126.46L140.76 126.35L140.08 126.46L139.41 126.31L138.76 126.09L138.1 125.97L137.45 125.77L136.73 126.02L136.06 125.95L135.41 125.73L134.75 125.6L134.1 125.42L133.49 125.07L132.76 125.22L132.1 125.07L131.39 125.09L130.78 124.76L130.13 124.56L129.55 124.17L128.99 123.74L128.24 123.81L127.56 123.71L127 123.28L126.3 123.19L125.65 122.98L125.13 122.49L124.52 122.21L123.82 122.08L123.28 121.65L122.6 121.47L122.15 120.9L121.61 120.48L120.97 120.23L120.5 119.71L119.98 119.28L119.27 119.11L118.75 118.68L118.13 118.39L117.71 117.82L117.28 117.27L116.76 116.85M115.29 115.63L114.59 115.4L114.21 114.82L113.7 114.38L113.38 113.76L112.85 113.34L112.4 112.84L111.96 112.34L111.65 111.72L111.28 111.16L110.61 110.85L110.23 110.29L109.89 109.71L109.56 109.13L109.17 108.59L108.81 108.02L108.54 107.41L107.96 106.99L107.62 106.41L107.36 105.79L106.83 105.32L106.66 104.65L106.36 104.05L105.8 103.59L105.67 102.91L105.34 102.32L104.85 101.81L104.47 101.25L104.44 100.52L104.24 99.88M103.34 98.09L103.23 97.43L102.81 96.86L102.85 96.15L102.44 95.57L102.36 94.9L102.39 94.21L102.24 93.56L102.26 92.87L101.94 92.26L101.93 91.59L101.56 90.97L101.46 90.31L101.49 89.63L101.54 88.96L101.36 88.31L101.44 87.63L101.14 86.99L101.34 86.31L101.25 85.65L101.18 84.98L101.28 84.32L101.09 83.65L101.19 82.99L101.13 82.32L101.16 81.65L101.33 80.99L101.43 80.33L101.67 79.69M101.8 77.93L101.66 77.23L101.9 76.59L101.93 75.92L102.29 75.31L102.34 74.63L102.54 73.99L102.67 73.33L102.92 72.71L103.27 72.12L103.45 71.47L103.68 70.85L103.96 70.24L103.94 69.52L104.24 68.92L104.47 68.29L104.48 67.57L104.66 66.91L104.84 66.25L105.08 65.62L105.69 65.17L106.11 64.63L106.61 64.14L106.75 63.45L106.98 62.81L107.41 62.29L107.78 61.73L108.05 61.1L108.34 60.49L108.87 60.04L109.1 59.38L109.61 58.92L109.97 58.35L110.54 57.94L111.07 57.52L111.26 56.8L111.62 56.23L112.04 55.69L112.73 55.42L113.33 55.07L113.83 54.63L114.32 54.17L114.77 53.68L115.21 53.18L115.8 52.84L116.26 52.36L116.64 51.77L117.23 51.44L117.59 50.81L118.11 50.39L118.6 49.91M119.54 49.59L120.09 49.19L120.59 48.7L121.21 48.42L121.91 48.27L122.35 47.67L122.87 47.21L123.55 47.03L124.25 46.92L124.73 46.36L125.32 46.03L126.05 45.98L126.69 45.76L127.36 45.59L127.87 45.07L128.55 44.94L129.09 44.44L129.7 44.13L130.44 44.19L131.05 43.85L131.72 43.73L132.34 43.41L132.96 43.11L133.68 43.15L134.39 43.22L134.99 42.78L135.67 42.73L136.31 42.41L136.98 42.29L137.65 42.17L138.33 42.02L139.01 42.01L139.71 42.08"/>
<path fill="none" stroke="#3cb0da" stroke-width="1.7" stroke-linejoin="round" d="M146.52 48.64L147.11 48.48L147.67 48.57L148.24 48.61L148.84 48.44L149.36 48.82L149.96 48.75L150.46 49.15L151.06 49.08L151.66 49.03L152.16 49.36L152.73 49.47L153.35 49.37L153.89 49.56L154.42 49.8L154.9 50.18L155.36 50.58L155.91 50.75L156.45 50.91L156.95 51.2L157.47 51.41L157.96 51.72L158.58 51.72L159.16 51.84L159.6 52.24L160.06 52.58L160.61 52.76L161.11 53.02L161.75 53.06L162.16 53.49L162.58 53.89L163.2 53.99L163.53 54.52L164.05 54.78L164.47 55.18L165.06 55.34L165.5 55.7M166.86 56.74L167.14 57.3L167.67 57.59L168.12 57.96L168.51 58.4L169.02 58.71L169.52 59.05L169.69 59.7L170.01 60.19L170.38 60.64L170.69 61.14L170.95 61.68L171.34 62.1L171.68 62.57L172.24 62.87L172.6 63.33L172.79 63.91L173.13 64.38L173.52 64.82L173.83 65.31L174.04 65.86L174.22 66.42L174.42 66.98L175.12 67.25L175.53 67.7L175.55 68.35L175.97 68.79L176.45 69.21L176.62 69.78L176.57 70.43L176.82 70.96L177.02 71.51L177.09 72.1M177.9 73.75L177.79 74.38L178.27 74.84L178.46 75.38L178.62 75.93L178.92 76.45L179 77.02L178.86 77.63L178.81 78.22L178.75 78.8L178.68 79.38L179.08 79.9L179.37 80.44L179.26 81.03L179.15 81.61L179.34 82.16L179.58 82.72L179.78 83.29L179.47 83.87L179.62 84.44L179.73 85.02L179.74 85.59L179.49 86.16L179.24 86.71L179.43 87.3L179.24 87.85L179.12 88.41L179.12 88.99L178.98 89.54L179.11 90.14L178.81 90.67L178.48 91.18L178.52 91.77L178.53 92.35L178.57 92.95L178.48 93.52L178.46 94.11L178.4 94.7L178.05 95.19L177.77 95.7L177.34 96.16L177.08 96.67L176.99 97.24L176.58 97.69L176.56 98.3L176.18 98.75L176 99.3M175.7 100.9L175.14 101.25L174.67 101.63L174.46 102.17L174.1 102.61L174.02 103.22L173.5 103.56L173.46 104.21L173.31 104.79L173.05 105.3L172.59 105.68L172.11 106.03L171.85 106.54L171.48 106.98L171.07 107.38L170.64 107.75L170.28 108.18L169.99 108.69L169.73 109.22L169.44 109.74L168.8 109.91L168.31 110.22L167.91 110.61L167.54 111.05L167.06 111.37L166.55 111.64L166.03 111.89L165.62 112.28L165.24 112.71L165 113.33L164.64 113.81L164.22 114.21L163.81 114.62L163.36 114.99L162.79 115.17L162.31 115.48L161.61 115.42L161.17 115.78L160.68 116.08L160.1 116.2L159.62 116.51L159.22 116.98L158.66 117.12L158.15 117.38L157.55 117.44L157 117.59L156.57 118.03L155.92 117.93L155.35 118.02L154.89 118.4L154.35 118.58L153.75 118.55L153.26 118.9L152.71 119.01L152.18 119.24L151.62 119.34L151.08 119.5L150.53 119.66L149.96 119.7L149.37 119.61M148.02 119.87L147.48 120.23L146.91 120.27L146.31 120.07L145.76 120.38L145.17 120.23L144.59 120.06L144.02 120.2L143.45 120.12L142.87 120.2L142.3 120.28L141.73 120.12L141.15 120.21L140.59 119.98L140.01 120.04L139.43 120.09L138.88 119.81L138.31 119.78L137.77 119.54L137.18 119.55L136.56 119.75L136 119.64L135.41 119.61L134.83 119.56L134.35 119.12L133.71 119.26L133.14 119.13L132.68 118.65L132.07 118.68L131.56 118.38L131.09 118L130.43 118.11L129.9 117.87L129.33 117.74L128.92 117.24L128.32 117.17L127.92 116.66L127.44 116.34L126.92 116.11L126.5 115.68L125.89 115.59L125.44 115.24L124.94 114.94L124.34 114.84L123.86 114.51L123.25 114.4L122.77 114.07L122.21 113.85L121.8 113.44L121.25 113.2L120.75 112.89L120.52 112.25M119.23 111.23L118.91 110.74L118.38 110.46L117.94 110.09L117.46 109.76L117.3 109.11L116.95 108.66L116.44 108.35L115.89 108.06L115.51 107.62L115.44 106.94L115.01 106.55L114.85 105.95L114.42 105.56L113.91 105.22L113.8 104.6L113.23 104.3L112.88 103.84L112.75 103.24L112.6 102.67L112.27 102.2L111.77 101.82L111.5 101.32L111.46 100.69L111.39 100.09L111.21 99.54L110.66 99.17L110.56 98.59L110.22 98.12L110.07 97.56M109.21 96.07L109.14 95.5L109.15 94.9L108.71 94.44L108.57 93.88L108.35 93.35L108.1 92.83L107.83 92.3L108.13 91.65L108.1 91.08L108.15 90.49L107.95 89.95L107.6 89.43L107.4 88.88L107.69 88.27L107.76 87.7L107.43 87.16L107.3 86.6L107.38 86.02L107.38 85.45L107.55 84.88L107.27 84.32L107.37 83.75L107.17 83.17L107.21 82.6L107.55 82.05L107.63 81.49L107.77 80.93L107.5 80.34M107.72 78.84L108.08 78.32L108.27 77.78L108.33 77.21L108.36 76.63L108.37 76.05L108.54 75.51L108.73 74.96L109.09 74.48L109.07 73.88L109.26 73.34L109.62 72.86L109.68 72.28L109.53 71.62L110.01 71.19L110.34 70.71L110.36 70.1L110.68 69.61L110.96 69.12L111.12 68.56L111.45 68.09L111.6 67.52L111.82 67L111.86 66.36L111.99 65.77L112.66 65.5L112.93 64.99L113.12 64.43L113.32 63.87L113.62 63.38L114.01 62.95L114.38 62.5L114.87 62.15L115.34 61.8L115.55 61.23L115.8 60.68L116.07 60.16L116.51 59.77L117.08 59.52L117.4 59.03L117.77 58.58L118.25 58.25L118.66 57.84L119.19 57.57L119.6 57.17L120.08 56.85L120.67 56.66L121.1 56.29L121.55 55.94L121.78 55.3L122.27 55.01M123.02 54.65L123.57 54.42L124.09 54.17L124.57 53.84L125.11 53.64L125.68 53.47L125.98 52.83L126.49 52.55L127 52.28L127.49 51.96L128.05 51.81L128.64 51.69L129.22 51.59L129.73 51.32L130.25 51.07L130.7 50.63L131.22 50.38L131.69 49.95L132.3 49.94L132.79 49.57L133.37 49.46L134.01 49.61L134.61 49.59L135.13 49.32L135.63 48.88L136.23 48.92L136.78 48.68L137.37 48.69L137.92 48.42L138.54 48.67L139.11 48.57L139.66 48.26L140.26 48.4"/>
<path fill="none" stroke="#5867af" stroke-width="2.5" stroke-linejoin="round" d="M145.5 60.32L145.87 60.4L146.25 60.45L146.63 60.5L147.01 60.5L147.39 60.58L147.76 60.64L148.13 60.73L148.52 60.77L148.9 60.81L149.27 60.89L149.63 61.03L150.01 61.1L150.39 61.17L150.75 61.29L151.09 61.48L151.47 61.56L151.84 61.66L152.18 61.84L152.52 62.03L152.86 62.2L153.22 62.32L153.59 62.43L153.94 62.59L154.3 62.73L154.61 62.96L154.93 63.16L155.29 63.31L155.62 63.49L155.94 63.71L156.27 63.9L156.58 64.13L156.87 64.38L157.19 64.59L157.48 64.84L157.81 65.03L158.11 65.26M159.02 65.95L159.32 66.19L159.59 66.48L159.88 66.74L160.13 67.05L160.46 67.26L160.74 67.54L161.04 67.79L161.25 68.13L161.52 68.41L161.8 68.69L162.02 69.01L162.23 69.34L162.45 69.66L162.68 69.98L162.96 70.26L163.15 70.6L163.42 70.88L163.63 71.22L163.85 71.54L164.06 71.87L164.26 72.2L164.46 72.54L164.65 72.88L164.81 73.24L165.01 73.57L165.15 73.94L165.34 74.28L165.52 74.63L165.69 74.98L165.79 75.36L165.96 75.72L166.14 76.07M166.44 77.26L166.53 77.63L166.64 77.99L166.8 78.34L166.83 78.73L166.86 79.11L166.97 79.48L167.08 79.85L167.18 80.21L167.21 80.6L167.33 80.96L167.32 81.35L167.39 81.73L167.37 82.11L167.36 82.49L167.37 82.88L167.37 83.26L167.43 83.63L167.47 84.01L167.44 84.39L167.51 84.78L167.48 85.16L167.42 85.54L167.38 85.91L167.41 86.3L167.43 86.68L167.33 87.06L167.23 87.43L167.24 87.81L167.15 88.18L167.16 88.57L167.07 88.94L167 89.32L166.89 89.69L166.84 90.07L166.72 90.43L166.6 90.79L166.54 91.17L166.37 91.52L166.29 91.89L166.11 92.24L166.01 92.61L165.87 92.96L165.78 93.33L165.57 93.66L165.44 94.02L165.28 94.36M164.88 95.34L164.73 95.69L164.53 96.02L164.3 96.32L164.08 96.63L163.87 96.94L163.67 97.27L163.45 97.58L163.23 97.88L163.06 98.23L162.85 98.55L162.6 98.83L162.42 99.17L162.15 99.44L161.91 99.74L161.64 100L161.43 100.32L161.2 100.63L160.91 100.87L160.66 101.17L160.41 101.45L160.11 101.68L159.81 101.93L159.54 102.18L159.29 102.48L158.96 102.68L158.69 102.94L158.4 103.19L158.09 103.41L157.79 103.65L157.51 103.9L157.17 104.08L156.88 104.33L156.55 104.51L156.24 104.74L155.93 104.96L155.57 105.1L155.27 105.33L154.95 105.55L154.59 105.68L154.22 105.79L153.87 105.93L153.56 106.17L153.19 106.27L152.87 106.48L152.5 106.58L152.17 106.76L151.79 106.85L151.43 106.95L151.09 107.12L150.72 107.2L150.36 107.32L150.01 107.49L149.65 107.61L149.29 107.74L148.93 107.86L148.54 107.85L148.16 107.89L147.8 108.01L147.42 108.09M146.5 108.14L146.12 108.21L145.73 108.23L145.35 108.28L144.97 108.28L144.58 108.27L144.2 108.39L143.82 108.37L143.43 108.43L143.05 108.37L142.66 108.37L142.28 108.32L141.89 108.31L141.51 108.26L141.13 108.28L140.75 108.2L140.36 108.2L139.98 108.15L139.6 108.05L139.22 107.99L138.84 107.94L138.45 107.92L138.08 107.81L137.72 107.69L137.33 107.66L136.94 107.59L136.57 107.48L136.22 107.32L135.87 107.16L135.51 107.02L135.16 106.86L134.81 106.71L134.43 106.6L134.07 106.47L133.71 106.34L133.36 106.18L133.03 105.97L132.66 105.85L132.31 105.7L131.97 105.52L131.63 105.34L131.28 105.17L130.93 105.01L130.59 104.82L130.27 104.6L129.97 104.36L129.67 104.11L129.36 103.88L129.02 103.7L128.73 103.44L128.44 103.19L128.14 102.94M127.33 102.21L127 102L126.77 101.69L126.48 101.44L126.17 101.21L125.93 100.9L125.66 100.63L125.42 100.34L125.19 100.03L124.96 99.72L124.73 99.41L124.44 99.16L124.17 98.88L123.91 98.6L123.76 98.24L123.51 97.94L123.32 97.61L123.09 97.3L122.89 96.98L122.71 96.63L122.47 96.33L122.35 95.96L122.13 95.65L121.91 95.32L121.76 94.97L121.59 94.63L121.39 94.3L121.29 93.92L121.13 93.57L120.97 93.23M120.63 92.14L120.48 91.79L120.38 91.42L120.27 91.06L120.15 90.7L120.04 90.33L119.98 89.96L119.87 89.59L119.79 89.22L119.76 88.84L119.67 88.47L119.63 88.09L119.51 87.72L119.48 87.34L119.41 86.97L119.38 86.59L119.36 86.21L119.37 85.83L119.39 85.45L119.3 85.07L119.29 84.69L119.29 84.31L119.29 83.93L119.27 83.55L119.33 83.17L119.39 82.79L119.36 82.41L119.4 82.03L119.43 81.65M119.54 80.65L119.57 80.26L119.62 79.88L119.78 79.52L119.87 79.15L119.91 78.77L119.98 78.39L120.14 78.04L120.28 77.68L120.4 77.32L120.53 76.96L120.64 76.59L120.7 76.21L120.83 75.85L120.97 75.49L121.16 75.16L121.3 74.8L121.38 74.42L121.53 74.07L121.72 73.73L121.9 73.39L122.05 73.04L122.22 72.69L122.46 72.39L122.63 72.05L122.85 71.73L123.04 71.4L123.28 71.1L123.49 70.78L123.71 70.47L123.93 70.16L124.19 69.88L124.43 69.57L124.63 69.25L124.9 68.98L125.15 68.69L125.36 68.36L125.63 68.09L125.89 67.81L126.16 67.54L126.39 67.23L126.69 66.99L126.95 66.71L127.2 66.41L127.52 66.19L127.81 65.95L128.07 65.67L128.37 65.42L128.69 65.21L129.03 65.02L129.33 64.79M129.76 64.45L130.06 64.21L130.4 64.02L130.73 63.82L131.05 63.6L131.37 63.37L131.72 63.21L132.07 63.04L132.41 62.85L132.74 62.63L133.11 62.51L133.44 62.3L133.79 62.14L134.16 62.02L134.52 61.86L134.89 61.75L135.27 61.67L135.62 61.49L135.99 61.38L136.36 61.26L136.73 61.14L137.09 60.99L137.47 60.88L137.86 60.87L138.24 60.76L138.62 60.69L139 60.61L139.37 60.5L139.76 60.47L140.14 60.42L140.52 60.32L140.91 60.31L141.3 60.28"/>
<path fill="none" stroke="#7a5a47" stroke-width="2.4" d="M150.93 54.95A30.3 30.3 0 0 1 151.58 55.13M156 56.75A30.3 30.3 0 0 1 156.47 56.97M161.34 59.88A30.3 30.3 0 0 1 161.93 60.33M163.04 61.23A30.3 30.3 0 0 1 163.36 61.51M165.5 63.57A30.3 30.3 0 0 1 165.7 63.78M167.58 66.03A30.3 30.3 0 0 1 167.8 66.33M170.87 71.52A30.3 30.3 0 0 1 170.99 71.79M173.18 78.69A30.3 30.3 0 0 1 173.3 79.41M173.39 79.99A30.3 30.3 0 0 1 173.47 80.59M173.57 81.45A30.3 30.3 0 0 1 173.59 81.75M173.63 82.18A30.3 30.3 0 0 1 173.67 82.93M173.69 85.03A30.3 30.3 0 0 1 173.68 85.45M173.57 87.09A30.3 30.3 0 0 1 173.54 87.4M173.45 88.21A30.3 30.3 0 0 1 173.34 88.97M172.99 90.83A30.3 30.3 0 0 1 172.91 91.17M172.52 92.67A30.3 30.3 0 0 1 172.41 93.04M172.26 93.53A30.3 30.3 0 0 1 172.08 94.07M170.35 98.15A30.3 30.3 0 0 1 170.22 98.4M169.87 99.04A30.3 30.3 0 0 1 169.69 99.37M168.92 100.63A30.3 30.3 0 0 1 168.58 101.15M167.34 102.87A30.3 30.3 0 0 1 166.86 103.47M165.83 104.67A30.3 30.3 0 0 1 165.32 105.22M164.88 105.67A30.3 30.3 0 0 1 164.37 106.18M163.88 106.63A30.3 30.3 0 0 1 163.65 106.84M162.37 107.93A30.3 30.3 0 0 1 161.77 108.39M161.22 108.81A30.3 30.3 0 0 1 160.58 109.26M159.82 109.77A30.3 30.3 0 0 1 159.3 110.09M158.85 110.37A30.3 30.3 0 0 1 158.42 110.62M156.96 111.4A30.3 30.3 0 0 1 156.69 111.53M155.2 112.21A30.3 30.3 0 0 1 154.73 112.4M153.46 112.88A30.3 30.3 0 0 1 152.92 113.06M152.39 113.23A30.3 30.3 0 0 1 151.8 113.41M151.4 113.53A30.3 30.3 0 0 1 150.66 113.72M149.83 113.91A30.3 30.3 0 0 1 149.12 114.06M147.33 114.57A30.53 30.53 0 0 1 146.02 114.71M145.75 114.53A30.32 30.32 0 0 1 143.38 114.62M143.12 114.4A30.1 30.1 0 0 1 140.84 114.29M140.4 114.37A30.22 30.22 0 0 1 138.03 114.04M137.76 113.89A30.12 30.12 0 0 1 135.7 113.42M135.34 113.74A30.52 30.52 0 0 1 133.71 113.24M133.47 112.62A30.01 30.01 0 0 1 130.35 111.32M129.6 111.47A30.47 30.47 0 0 1 127.54 110.32M127.33 109.8A30.14 30.14 0 0 1 124.98 108.16M124.56 107.85A30.16 30.16 0 0 1 124.3 107.64M123.16 106.86A30.31 30.31 0 0 1 121.65 105.41M121.6 104.99A30.05 30.05 0 0 1 119.42 102.4M118.9 102.22A30.36 30.36 0 0 1 117.94 100.84M117.92 100.21A30.04 30.04 0 0 1 116.5 97.67M115.87 97.63A30.59 30.59 0 0 1 114.98 95.61M114.64 94.2A30.42 30.42 0 0 1 113.88 91.61M113.68 91.08A30.49 30.49 0 0 1 113.3 89.15M113.71 88.67A30.01 30.01 0 0 1 113.41 85.23M113.16 84.63A30.24 30.24 0 0 1 113.21 82.49M113.03 82.22A30.44 30.44 0 0 1 113.14 80.96M113.54 79.73A30.21 30.21 0 0 1 113.8 78.3M113.92 78.05A30.13 30.13 0 0 1 114.29 76.52M113.93 76.06A30.6 30.6 0 0 1 115.13 72.59M115.62 72.2A30.3 30.3 0 0 1 116.63 70.11M116.76 69.56A30.45 30.45 0 0 1 118.61 66.62M118.95 66.27A30.38 30.38 0 0 1 119.93 65.02M120.54 64.79A30.06 30.06 0 0 1 122.68 62.53M123.02 62.15A30.1 30.1 0 0 1 124.51 60.87M124.78 60.21A30.45 30.45 0 0 1 125.59 59.61M126.09 59.11A30.56 30.56 0 0 1 128.88 57.41M129.44 57.18A30.5 30.5 0 0 1 132.22 55.92M132.82 55.95A30.26 30.26 0 0 1 135.31 55.14M135.78 54.74A30.52 30.52 0 0 1 138.87 54.12M139.24 54.27A30.32 30.32 0 0 1 140.76 54.1"/>
<path d="M150.22 6.3A78.3 78.3 0 0 1 191.28 22.35" fill="none" stroke="#666" stroke-width="0.9"/>
<text x="173.22" y="8.02" font-size="6.2" fill="#555" text-anchor="middle" dominant-baseline="central" transform="rotate(21.35 173.22 8.02)">chr1</text>
<path d="M194.15 24.67A78.3 78.3 0 0 1 217.02 57.65" fill="none" stroke="#666" stroke-width="0.9"/>
<text x="210.69" y="37.62" font-size="6.2" fill="#555" text-anchor="middle" dominant-baseline="central" transform="rotate(55.25 210.69 37.62)">chr2</text>
<path d="M218.28 61.41A78.3 78.3 0 0 1 214.54 117.02" fill="none" stroke="#666" stroke-width="0.9"/>
<text x="225.12" y="89.8" font-size="6.2" fill="#555" text-anchor="middle" dominant-baseline="central" transform="rotate(-86.15 225.12 89.8)">chr3</text>
<path d="M213.04 120.09A78.3 78.3 0 0 1 156.46 161.5" fill="none" stroke="#666" stroke-width="0.9"/>
<text x="191.77" y="150.39" font-size="6.2" fill="#555" text-anchor="middle" dominant-baseline="central" transform="rotate(-36.2 191.77 150.39)">chr4</text>
<path d="M153.48 161.95A78.3 78.3 0 0 1 93.81 144.89" fill="none" stroke="#666" stroke-width="0.9"/>
<text x="120.89" y="163.05" font-size="6.2" fill="#555" text-anchor="middle" dominant-baseline="central" transform="rotate(15.95 120.89 163.05)">chr5</text>
<path d="M91.11 142.58A78.3 78.3 0 0 1 70.65 113.25" fill="none" stroke="#666" stroke-width="0.9"/>
<text x="76.23" y="131.16" font-size="6.2" fill="#555" text-anchor="middle" dominant-baseline="central" transform="rotate(55.1 76.23 131.16)">chr6</text>
<path d="M69.37 109.79A78.3 78.3 0 0 1 65.57 75.71" fill="none" stroke="#666" stroke-width="0.9"/>
<text x="62" y="93.36" font-size="6.2" fill="#555" text-anchor="middle" dominant-baseline="central" transform="rotate(83.65 62 93.36)">chr7</text>
<path d="M66 72.46A78.3 78.3 0 0 1 97.6 20.79" fill="none" stroke="#666" stroke-width="0.9"/>
<text x="73.53" y="41.57" font-size="6.2" fill="#555" text-anchor="middle" dominant-baseline="central" transform="rotate(301.45 73.53 41.57)">chr8</text>
<path d="M99.05 19.77A78.3 78.3 0 0 1 136.58 6.3" fill="none" stroke="#666" stroke-width="0.9"/>
<text x="115.72" y="7.22" font-size="6.2" fill="#555" text-anchor="middle" dominant-baseline="central" transform="rotate(340.25 115.72 7.22)">chr9</text>
<path fill="none" stroke="#888" stroke-width="0.4" d="M150.22 6.3L150.36 4.8M151.99 6.47L152.16 4.98M153.76 6.69L153.95 5.2M155.51 6.94L155.75 5.46M157.27 7.24L157.53 5.76M159.01 7.57L159.31 6.1M160.75 7.95L161.08 6.48M162.48 8.36L162.84 6.9M164.19 8.81L164.59 7.37M165.9 9.3L166.33 7.87M167.6 9.83L168.06 8.41M169.28 10.4L169.78 8.98M170.95 11.01L171.48 9.6M172.6 11.65L173.16 10.26M174.25 12.33L174.84 10.95M175.87 13.05L176.49 11.69M177.48 13.81L178.13 12.45M179.07 14.6L179.75 13.26M180.64 15.42L181.35 14.1M182.19 16.29L182.94 14.98M183.73 17.18L184.5 15.9M185.24 18.12L186.04 16.85M186.73 19.08L187.56 17.83M188.2 20.08L189.06 18.85M189.64 21.12L190.53 19.9M191.07 22.18L191.98 20.99M194.15 24.67L195.12 23.53M195.49 25.84L196.49 24.72M196.8 27.04L197.82 25.94M198.09 28.26L199.13 27.19M199.34 29.52L200.41 28.47M200.57 30.8L201.67 29.77M201.77 32.11L202.89 31.11M202.94 33.45L204.08 32.47M204.08 34.81L205.24 33.86M205.19 36.2L206.37 35.28M206.26 37.62L207.46 36.72M207.3 39.05L208.53 38.19M208.31 40.52L209.56 39.68M209.29 42L210.55 41.19M210.23 43.5L211.51 42.72M211.14 45.03L212.44 44.28M212.01 46.58L213.33 45.86M212.85 48.15L214.18 47.45M213.66 49.73L215 49.07M214.42 51.33L215.78 50.7M215.15 52.95L216.53 52.35M215.84 54.59L217.23 54.02M216.5 56.24L217.9 55.7M218.28 61.41L219.71 60.97M218.78 63.11L220.22 62.71M219.24 64.83L220.69 64.45M219.66 66.55L221.12 66.21M220.05 68.29L221.51 67.98M220.39 70.03L221.86 69.76M220.69 71.78L222.17 71.54M220.96 73.54L222.44 73.33M221.18 75.3L222.67 75.13M221.37 77.07L222.86 76.93M221.51 78.84L223.01 78.73M221.61 80.61L223.11 80.54M221.68 82.39L223.18 82.35M221.7 84.16L223.2 84.16M221.68 85.94L223.18 85.97M221.63 87.72L223.12 87.78M221.53 89.49L223.02 89.59M221.39 91.26L222.88 91.39M221.21 93.03L222.7 93.2M220.99 94.79L222.48 94.99M220.74 96.55L222.22 96.78M220.44 98.3L221.91 98.57M220.1 100.04L221.57 100.35M219.72 101.78L221.19 102.12M219.31 103.51L220.76 103.88M218.85 105.22L220.3 105.63M218.36 106.93L219.79 107.36M217.83 108.63L219.25 109.09M217.25 110.31L218.67 110.81M216.65 111.98L218.05 112.51M216 113.63L217.39 114.19M215.31 115.27L216.69 115.86M214.59 116.89L215.96 117.52M213.04 120.09L214.38 120.78M212.21 121.66L213.53 122.38M211.35 123.21L212.65 123.96M210.45 124.74L211.73 125.52M209.51 126.26L210.78 127.06M208.54 127.74L209.79 128.58M207.54 129.21L208.77 130.07M206.5 130.65L207.71 131.54M205.44 132.07L206.62 132.99M204.34 133.47L205.5 134.41M203.21 134.84L204.35 135.81M202.04 136.18L203.17 137.18M200.85 137.5L201.95 138.52M199.63 138.79L200.71 139.83M198.38 140.05L199.43 141.12M197.1 141.28L198.13 142.38M195.79 142.49L196.8 143.6M194.46 143.66L195.44 144.8M193.1 144.81L194.05 145.96M191.71 145.92L192.64 147.1M190.3 147L191.2 148.2M188.87 148.05L189.74 149.27M187.41 149.06L188.25 150.3M185.93 150.04L186.75 151.3M184.43 150.99L185.21 152.27M182.9 151.9L183.66 153.2M181.36 152.78L182.09 154.09M179.8 153.63L180.49 154.95M178.21 154.43L178.88 155.78M176.61 155.21L177.25 156.56M175 155.94L175.6 157.31M173.36 156.64L173.94 158.03M171.72 157.3L172.26 158.7M170.05 157.92L170.56 159.33M168.37 158.51L168.85 159.93M166.68 159.06L167.13 160.49M164.98 159.57L165.4 161.01M163.27 160.04L163.65 161.49M161.55 160.47L161.89 161.93M159.81 160.86L160.13 162.33M158.07 161.21L158.35 162.69M153.48 161.95L153.68 163.44M151.72 162.16L151.88 163.65M149.95 162.33L150.08 163.82M148.18 162.45L148.27 163.95M146.41 162.54L146.46 164.04M144.63 162.59L144.65 164.09M142.85 162.6L142.84 164.1M141.08 162.57L141.03 164.06M139.3 162.49L139.22 163.99M137.53 162.38L137.42 163.88M135.76 162.23L135.61 163.72M133.99 162.03L133.81 163.52M132.23 161.8L132.02 163.28M130.48 161.53L130.23 163.01M128.73 161.21L128.45 162.69M126.99 160.86L126.67 162.33M125.25 160.47L124.91 161.93M123.53 160.04L123.15 161.49M121.82 159.57L121.4 161.01M120.12 159.06L119.67 160.49M118.43 158.51L117.95 159.93M116.75 157.92L116.24 159.33M115.08 157.3L114.54 158.7M113.44 156.64L112.86 158.03M111.8 155.94L111.2 157.31M110.19 155.21L109.55 156.56M108.59 154.43L107.92 155.78M107 153.63L106.31 154.95M105.44 152.78L104.71 154.09M103.9 151.9L103.14 153.2M102.37 150.99L101.59 152.27M100.87 150.04L100.05 151.3M99.39 149.06L98.55 150.3M97.93 148.05L97.06 149.27M96.5 147L95.6 148.2M95.09 145.92L94.16 147.1M91.11 142.58L90.11 143.7M89.8 141.38L88.77 142.47M88.52 140.15L87.47 141.22M87.27 138.89L86.19 139.93M86.04 137.6L84.94 138.62M84.85 136.29L83.73 137.28M83.68 134.94L82.54 135.91M82.55 133.58L81.38 134.52M81.45 132.18L80.26 133.1M80.38 130.76L79.17 131.65M79.34 129.32L78.11 130.19M78.33 127.86L77.09 128.69M77.36 126.37L76.1 127.18M76.42 124.86L75.14 125.64M75.52 123.33L74.22 124.08M74.65 121.78L73.34 122.5M73.82 120.21L72.49 120.9M73.02 118.62L71.68 119.28M72.26 117.02L70.9 117.65M71.54 115.4L70.16 115.99M70.85 113.76L69.46 114.32M69.37 109.79L67.95 110.28M68.81 108.11L67.38 108.56M68.29 106.41L66.85 106.83M67.8 104.7L66.36 105.09M67.36 102.98L65.9 103.33M66.96 101.25L65.49 101.57M66.59 99.51L65.12 99.8M66.27 97.76L64.79 98.02M65.98 96.01L64.5 96.23M65.73 94.25L64.25 94.44M65.53 92.48L64.04 92.64M65.36 90.72L63.87 90.84M65.24 88.94L63.74 89.03M65.15 87.17L63.65 87.22M65.11 85.39L63.61 85.41M65.1 83.62L63.6 83.6M65.14 81.84L63.64 81.79M65.21 80.07L63.72 79.98M65.33 78.29L63.84 78.18M65.49 76.52L63.99 76.37M66 72.46L64.52 72.23M66.29 70.7L64.81 70.44M66.62 68.96L65.15 68.66M66.99 67.22L65.52 66.89M67.39 65.49L65.94 65.13M67.84 63.77L66.39 63.38M68.32 62.06L66.89 61.64M68.85 60.36L67.42 59.91M69.41 58.68L67.99 58.19M70.01 57.01L68.6 56.48M70.65 55.35L69.26 54.79M71.32 53.71L69.94 53.12M72.04 52.08L70.67 51.46M72.79 50.47L71.43 49.82M73.57 48.87L72.23 48.2M74.39 47.3L73.07 46.59M75.25 45.74L73.95 45M76.14 44.21L74.86 43.44M77.07 42.69L75.8 41.89M78.03 41.2L76.78 40.37M79.03 39.73L77.79 38.87M80.05 38.28L78.84 37.39M81.11 36.85L79.92 35.94M82.21 35.45L81.03 34.51M83.33 34.07L82.18 33.11M84.49 32.72L83.36 31.74M85.67 31.4L84.57 30.39M86.89 30.11L85.8 29.07M88.13 28.84L87.07 27.77M89.4 27.6L88.37 26.51M90.7 26.39L89.69 25.28M92.03 25.21L91.05 24.07M93.38 24.06L92.43 22.9M94.76 22.94L93.83 21.76M96.17 21.85L95.26 20.65M99.05 19.77L98.2 18.53M100.53 18.78L99.7 17.53M102.02 17.83L101.23 16.55M103.54 16.9L102.78 15.61M105.08 16.02L104.35 14.71M106.64 15.17L105.94 13.84M108.22 14.35L107.54 13.01M109.81 13.57L109.17 12.21M111.43 12.83L110.82 11.46M113.06 12.12L112.48 10.74M114.7 11.45L114.15 10.05M116.36 10.82L115.85 9.41M118.04 10.22L117.55 8.8M119.72 9.67L119.27 8.24M121.42 9.15L121 7.71M123.13 8.67L122.75 7.22M124.86 8.23L124.5 6.77M126.59 7.83L126.26 6.36M128.33 7.46L128.04 5.99M130.07 7.14L129.82 5.66M131.83 6.86L131.6 5.38M133.59 6.62L133.4 5.13M135.35 6.41L135.2 4.92"/>
<rect x="143.41" y="10.4" width="1" height="1.8" fill="#555"/>
<rect x="143.37" y="16.4" width="1" height="1.8" fill="#555"/>
<rect x="143.33" y="22.1" width="1" height="1.8" fill="#555"/>
<rect x="143.29" y="28.1" width="1" height="1.8" fill="#555"/>
<rect x="143.24" y="34.9" width="1" height="1.8" fill="#555"/>
<rect x="143.19" y="41.8" width="1" height="1.8" fill="#555"/>
<rect x="143.15" y="48.3" width="1" height="1.8" fill="#555"/>
<rect x="143.11" y="53.6" width="1" height="1.8" fill="#555"/>
<rect x="143.06" y="60.4" width="1" height="1.8" fill="#555"/>
<rect x="294.5" y="15.9" width="118.6" height="118.8" fill="none" stroke="#333" stroke-width="1"/>
<line x1="291.3" y1="22.3" x2="294.5" y2="22.3" stroke="#333" stroke-width="1"/>
<text x="291.2" y="24.0" font-size="4.8" fill="#555" text-anchor="end">0.05</text>
<line x1="291.3" y1="49.2" x2="294.5" y2="49.2" stroke="#333" stroke-width="1"/>
<text x="291.2" y="50.900000000000006" font-size="4.8" fill="#555" text-anchor="end">0.00</text>
<line x1="291.3" y1="75.9" x2="294.5" y2="75.9" stroke="#333" stroke-width="1"/>
<text x="291.2" y="77.60000000000001" font-size="4.8" fill="#555" text-anchor="end">0.05</text>
<rect x="278.2" y="75.35" width="3.4" height="1.1" fill="#333"/>
<line x1="291.3" y1="102.4" x2="294.5" y2="102.4" stroke="#333" stroke-width="1"/>
<text x="291.2" y="104.10000000000001" font-size="4.8" fill="#555" text-anchor="end">0.10</text>
<rect x="278.2" y="101.85" width="3.4" height="1.1" fill="#333"/>
<line x1="291.3" y1="129.2" x2="294.5" y2="129.2" stroke="#333" stroke-width="1"/>
<text x="291.2" y="130.89999999999998" font-size="4.8" fill="#555" text-anchor="end">0.15</text>
<rect x="278.2" y="128.65" width="3.4" height="1.1" fill="#333"/>
<line x1="320" y1="134.8" x2="320" y2="137.5" stroke="#333" stroke-width="1"/>
<text x="320" y="141.3" font-size="4.8" fill="#444" text-anchor="middle">0.00</text>
<line x1="349.6" y1="134.8" x2="349.6" y2="137.5" stroke="#333" stroke-width="1"/>
<text x="349.6" y="141.3" font-size="4.8" fill="#444" text-anchor="middle">0.04</text>
<line x1="379.2" y1="134.8" x2="379.2" y2="137.5" stroke="#333" stroke-width="1"/>
<text x="379.2" y="141.3" font-size="4.8" fill="#444" text-anchor="middle">0.08</text>
<line x1="408.8" y1="134.8" x2="408.8" y2="137.5" stroke="#333" stroke-width="1"/>
<text x="408.8" y="141.3" font-size="4.8" fill="#444" text-anchor="middle">0.12</text>
<text x="353.7" y="148.4" font-size="6.8" fill="#222" text-anchor="middle">PC1 (35.92% of variance)</text>
<text x="0" y="0" font-size="6.8" fill="#222" text-anchor="middle" transform="translate(276.5 75.3) rotate(-90)">PC2 (21.43% of variance)</text>
<circle cx="299" cy="42" r="3" fill="#8fd1c0" fill-opacity="0.6"/>
<circle cx="300" cy="43.5" r="3" fill="#8fd1c0" fill-opacity="0.6"/>
<circle cx="298.5" cy="41" r="3" fill="#8fd1c0" fill-opacity="0.6"/>
<circle cx="303" cy="44" r="3.2" fill="#4aa64a" fill-opacity="0.65"/>
<circle cx="305" cy="45.5" r="3.2" fill="#4aa64a" fill-opacity="0.65"/>
<circle cx="306" cy="47" r="3.2" fill="#4aa64a" fill-opacity="0.65"/>
<circle cx="304" cy="46" r="3.2" fill="#4aa64a" fill-opacity="0.65"/>
<circle cx="305.5" cy="46.5" r="2.5" fill="#6e4a36" fill-opacity="0.15"/>
<circle cx="313.3" cy="49.3" r="3.5" fill="#2c4a8a" fill-opacity="0.6"/>
<circle cx="314" cy="49" r="3.6" fill="#7886bb" fill-opacity="0.7"/>
<circle cx="403" cy="23.5" r="3.6" fill="#3cb6d7" fill-opacity="0.85"/>
<circle cx="405" cy="22" r="3.6" fill="#3cb6d7" fill-opacity="0.85"/>
<circle cx="407" cy="21" r="3.6" fill="#3cb6d7" fill-opacity="0.85"/>
<circle cx="409" cy="19.5" r="3.6" fill="#3cb6d7" fill-opacity="0.85"/>
<circle cx="410.5" cy="18" r="3.6" fill="#3cb6d7" fill-opacity="0.85"/>
<circle cx="404" cy="25" r="3.6" fill="#3cb6d7" fill-opacity="0.85"/>
<circle cx="406.5" cy="24" r="3.6" fill="#3cb6d7" fill-opacity="0.85"/>
<circle cx="402.3" cy="22" r="3.6" fill="#3cb6d7" fill-opacity="0.85"/>
<circle cx="405" cy="20.5" r="3.6" fill="#3cb6d7" fill-opacity="0.85"/>
<circle cx="408.5" cy="22" r="3.6" fill="#3cb6d7" fill-opacity="0.85"/>
<circle cx="343.5" cy="92" r="3.3" fill="#c5aee0" fill-opacity="0.6"/>
<circle cx="345" cy="93.5" r="3.3" fill="#c5aee0" fill-opacity="0.6"/>
<circle cx="347" cy="94" r="3.3" fill="#c5aee0" fill-opacity="0.6"/>
<circle cx="346" cy="91.5" r="3.3" fill="#c5aee0" fill-opacity="0.6"/>
<circle cx="348" cy="93" r="3.3" fill="#c5aee0" fill-opacity="0.6"/>
<circle cx="352" cy="124" r="3.3" fill="#8e3aa5" fill-opacity="0.7"/>
<circle cx="353" cy="127" r="3.3" fill="#8e3aa5" fill-opacity="0.7"/>
<circle cx="352.5" cy="130" r="3.3" fill="#8e3aa5" fill-opacity="0.7"/>
<circle cx="354" cy="131" r="3.3" fill="#8e3aa5" fill-opacity="0.7"/>
<circle cx="353.5" cy="122.5" r="3.3" fill="#8e3aa5" fill-opacity="0.7"/>
<circle cx="352" cy="128.5" r="3.3" fill="#8e3aa5" fill-opacity="0.7"/>
<circle cx="354.3" cy="126" r="3.3" fill="#8e3aa5" fill-opacity="0.7"/>
<text x="421.3" y="28.8" font-size="8.5" fill="#222">Species</text>
<circle cx="426.6" cy="38.5" r="3.9" fill="#2c4a8a"/>
<text x="436" y="40.6" font-size="5.8" font-style="italic" fill="#222">L. aculeata</text>
<circle cx="426.6" cy="49.2" r="3.9" fill="#7886bb"/>
<text x="436" y="51.3" font-size="5.8" font-style="italic" fill="#222">L. altaica</text>
<circle cx="426.6" cy="59.9" r="3.9" fill="#8fd1c0"/>
<text x="436" y="62" font-size="5.8" font-style="italic" fill="#222">L. dregeana</text>
<circle cx="426.6" cy="70.6" r="3.9" fill="#c5aee0"/>
<text x="436" y="72.7" font-size="5.8" font-style="italic" fill="#222">L. georgica</text>
<circle cx="426.6" cy="81.3" r="3.9" fill="#6e4a36"/>
<text x="436" y="83.4" font-size="5.8" font-style="italic" fill="#222">L. sagittata</text>
<circle cx="426.6" cy="92" r="3.9" fill="#3cb6d7"/>
<text x="436" y="94.1" font-size="5.8" font-style="italic" fill="#222">L. saligna</text>
<circle cx="426.6" cy="102.7" r="3.9" fill="#3fa03d"/>
<text x="436" y="104.8" font-size="5.8" font-style="italic" fill="#222">L. sativa</text>
<circle cx="426.6" cy="113.4" r="3.9" fill="#fbb86f"/>
<text x="436" y="115.5" font-size="5.8" font-style="italic" fill="#222">L. serriola</text>
<circle cx="426.6" cy="124.1" r="3.9" fill="#8e3aa5"/>
<text x="436" y="126.2" font-size="5.8" font-style="italic" fill="#222">L. virosa</text>
<rect x="52.3" y="230.20000000000002" width="45.2" height="1.5" fill="#c27dcc"/>
<rect x="97.5" y="230.20000000000002" width="58" height="1.5" fill="#4dbde0"/>
<rect x="155.5" y="230.20000000000002" width="201" height="1.5" fill="#f7bd84"/>
<rect x="356.5" y="230.20000000000002" width="145.5" height="1.5" fill="#5cb85a"/>
<path fill="none" stroke="#c987cf" stroke-width="0.55" d="M53 223.99V230.4M54 224.61V230.4M55 225.24V230.4M56 225.86V230.4M57 226.48V230.4M58 227.11V230.4M59 227.73V230.4M60 228.35V230.4M61 228.98V230.4M62 229.6V230.4M63 224.47V230.4M64 225.2V230.4M65 225.93V230.4M66 226.67V230.4M67 227.4V230.4M68 228.13V230.4M69 228.87V230.4M70.5 224.68V230.4M71.5 225.66V230.4M72.5 226.65V230.4M73.5 227.63V230.4M74.5 228.62V230.4M75.5 229.6V230.4M76.5 225.27V230.4M77.5 226.14V230.4M78.5 227V230.4M79.5 227.87V230.4M80.5 228.73V230.4M81.5 229.6V230.4M83 224.46V230.4M84 225.74V230.4M85 227.03V230.4M86 228.31V230.4M87 229.6V230.4M88 226V230.4M89 226.72V230.4M90 227.44V230.4M91 228.16V230.4M92 228.88V230.4M93 229.6V230.4M94.2 228.8V230.4M95.2 229.07V230.4M96.2 229.33V230.4M97.2 229.6V230.4"/>
<path fill="none" stroke="#62c3e2" stroke-width="0.55" d="M98 219.5V230.4M99 221.52V230.4M100 223.54V230.4M101 225.56V230.4M102 227.58V230.4M103.5 220.5V230.4M104.5 220.96V230.4M105.5 221.41V230.4M106.5 221.87V230.4M107.5 222.32V230.4M108.5 222.78V230.4M109.5 223.23V230.4M110.5 223.69V230.4M111.5 224.14V230.4M112.5 224.59V230.4M113.5 225.05V230.4M114.5 225.5V230.4M115.5 225.96V230.4M116.5 226.41V230.4M117.5 226.87V230.4M118.5 227.32V230.4M119.5 227.78V230.4M120.5 228.23V230.4M121.5 228.69V230.4M122.5 229.14V230.4M123.5 229.6V230.4M124.2 224.99V230.4M125.2 225.91V230.4M126.2 226.83V230.4M127.2 227.75V230.4M128.2 228.68V230.4M129.2 229.6V230.4M130.5 224.99V230.4M131.5 225.76V230.4M132.5 226.53V230.4M133.5 227.29V230.4M134.5 228.06V230.4M135.5 228.83V230.4M136.5 229.6V230.4M137.5 224.21V230.4M138.5 225.11V230.4M139.5 226.01V230.4M140.5 226.91V230.4M141.5 227.8V230.4M142.5 228.7V230.4M143.5 229.6V230.4M144.5 225.37V230.4M145.5 226.21V230.4M146.5 227.06V230.4M147.5 227.91V230.4M148.5 228.75V230.4M149.5 229.6V230.4M150.5 227V230.4M151.5 227.52V230.4M152.5 228.04V230.4M153.5 228.56V230.4M154.5 229.08V230.4"/>
<path fill="none" stroke="#f6c08a" stroke-width="0.55" d="M156 226.51V230.4M157.5 221.51V230.4M158.5 222.67V230.4M159.5 223.82V230.4M160.5 224.98V230.4M161.5 226.13V230.4M162.5 227.29V230.4M163.5 228.44V230.4M164.5 229.6V230.4M165.5 224.77V230.4M166.5 225.21V230.4M167.5 225.65V230.4M168.5 226.09V230.4M169.5 226.53V230.4M170.5 226.97V230.4M171.5 227.41V230.4M172.5 227.85V230.4M173.5 228.28V230.4M174.5 228.72V230.4M175.5 229.16V230.4M176.5 229.6V230.4M178 221.59V230.4M179 224.26V230.4M180 226.93V230.4M181.5 224.5V230.4M182.5 224.78V230.4M183.5 225.07V230.4M184.5 225.35V230.4M185.5 225.63V230.4M186.5 225.92V230.4M187.5 226.2V230.4M188.5 226.48V230.4M189.5 226.77V230.4M190.5 227.05V230.4M191.5 227.33V230.4M192.5 227.62V230.4M193.5 227.9V230.4M194.5 228.18V230.4M195.5 228.47V230.4M196.5 228.75V230.4M197.5 229.03V230.4M198.5 229.32V230.4M199.5 229.6V230.4M200.5 225.27V230.4M201.5 225.89V230.4M202.5 226.51V230.4M203.5 227.12V230.4M204.5 227.74V230.4M205.5 228.36V230.4M206.5 228.98V230.4M207.5 229.6V230.4M208.5 224.6V230.4M209.5 225.44V230.4M210.5 226.27V230.4M211.5 227.1V230.4M212.5 227.93V230.4M213.5 228.77V230.4M214.5 229.6V230.4M215.5 224.94V230.4M216.5 226.49V230.4M217.5 228.05V230.4M218.5 229.6V230.4M219.5 221.65V230.4M220.5 223.24V230.4M221.5 224.83V230.4M222.5 226.42V230.4M223.5 228.01V230.4M224.5 229.6V230.4M225.5 223.94V230.4M226.5 224.46V230.4M227.5 224.97V230.4M228.5 225.49V230.4M229.5 226V230.4M230.5 226.51V230.4M231.5 227.03V230.4M232.5 227.54V230.4M233.5 228.06V230.4M234.5 228.57V230.4M235.5 229.09V230.4M236.5 229.6V230.4M238 222.21V230.4M239 224.67V230.4M240 227.14V230.4M241 229.6V230.4M242.4 221.81V230.4M243.4 222.93V230.4M244.4 224.04V230.4M245.4 225.15V230.4M246.4 226.26V230.4M247.4 227.38V230.4M248.4 228.49V230.4M249.4 229.6V230.4M250.5 222.15V230.4M251.5 223.21V230.4M252.5 224.28V230.4M253.5 225.34V230.4M254.5 226.41V230.4M255.5 227.47V230.4M256.5 228.54V230.4M257.5 229.6V230.4M258.5 223.12V230.4M259.5 224.05V230.4M260.5 224.97V230.4M261.5 225.9V230.4M262.5 226.82V230.4M263.5 227.75V230.4M264.5 228.67V230.4M265.5 229.6V230.4M266.5 223.32V230.4M267.5 224.11V230.4M268.5 224.89V230.4M269.5 225.68V230.4M270.5 226.46V230.4M271.5 227.25V230.4M272.5 228.03V230.4M273.5 228.82V230.4M274.5 229.6V230.4M275.5 221.63V230.4M276.5 222.96V230.4M277.5 224.29V230.4M278.5 225.62V230.4M279.5 226.94V230.4M280.5 228.27V230.4M281.5 229.6V230.4M282.5 224.43V230.4M283.5 225.72V230.4M284.5 227.01V230.4M285.5 228.31V230.4M286.5 229.6V230.4M287.5 226.5V230.4M288.5 227.53V230.4M289.5 228.57V230.4M290.5 229.6V230.4M291.5 223.24V230.4M292.5 224.51V230.4M293.5 225.78V230.4M294.5 227.06V230.4M295.5 228.33V230.4M296.5 229.6V230.4M297.5 223.31V230.4M298.5 224.57V230.4M299.5 225.83V230.4M300.5 227.09V230.4M301.5 228.34V230.4M302.5 229.6V230.4M303.5 223.31V230.4M304.5 223.89V230.4M305.5 224.46V230.4M306.5 225.03V230.4M307.5 225.6V230.4M308.5 226.17V230.4M309.5 226.74V230.4M310.5 227.31V230.4M311.5 227.89V230.4M312.5 228.46V230.4M313.5 229.03V230.4M314.5 229.6V230.4M315.5 224.01V230.4M316.5 224.81V230.4M317.5 225.61V230.4M318.5 226.4V230.4M319.5 227.2V230.4M320.5 228V230.4M321.5 228.8V230.4M322.5 229.6V230.4M323.5 222.95V230.4M324.5 223.68V230.4M325.5 224.42V230.4M326.5 225.16V230.4M327.5 225.9V230.4M328.5 226.64V230.4M329.5 227.38V230.4M330.5 228.12V230.4M331.5 228.86V230.4M332.5 229.6V230.4M333.5 224.32V230.4M334.5 225.2V230.4M335.5 226.08V230.4M336.5 226.96V230.4M337.5 227.84V230.4M338.5 228.72V230.4M339.5 229.6V230.4M340.5 224.26V230.4M341.5 225.15V230.4M342.5 226.04V230.4M343.5 226.93V230.4M344.5 227.82V230.4M345.5 228.71V230.4M346.5 229.6V230.4M347.5 224.5V230.4M348.5 225.07V230.4M349.5 225.63V230.4M350.5 226.2V230.4M351.5 226.77V230.4M352.5 227.33V230.4M353.5 227.9V230.4M354.5 228.47V230.4M355.5 229.03V230.4"/>
<path fill="none" stroke="#79c472" stroke-width="0.55" d="M357 224.09V230.4M358 225.19V230.4M359 226.29V230.4M360 227.4V230.4M361 228.5V230.4M362.5 224.45V230.4M363.5 225.48V230.4M364.5 226.51V230.4M365.5 227.54V230.4M366.5 228.57V230.4M367.5 229.6V230.4M368.5 224.98V230.4M369.5 225.9V230.4M370.5 226.83V230.4M371.5 227.75V230.4M372.5 228.68V230.4M373.5 229.6V230.4M374.2 223.57V230.4M375.2 225.08V230.4M376.2 226.59V230.4M377.2 228.09V230.4M378.2 229.6V230.4M379.2 225.25V230.4M380.2 226.34V230.4M381.2 227.42V230.4M382.2 228.51V230.4M383.2 229.6V230.4M384.3 224.42V230.4M385.3 225.16V230.4M386.3 225.9V230.4M387.3 226.64V230.4M388.3 227.38V230.4M389.3 228.12V230.4M390.3 228.86V230.4M391.3 229.6V230.4M392.5 224.16V230.4M393.5 224.62V230.4M394.5 225.07V230.4M395.5 225.52V230.4M396.5 225.97V230.4M397.5 226.43V230.4M398.5 226.88V230.4M399.5 227.33V230.4M400.5 227.79V230.4M401.5 228.24V230.4M402.5 228.69V230.4M403.5 229.15V230.4M404.5 229.6V230.4M405.5 222.38V230.4M406.5 224.18V230.4M407.5 225.99V230.4M408.5 227.79V230.4M409.5 229.6V230.4M410.5 223.39V230.4M411.5 224.08V230.4M412.5 224.77V230.4M413.5 225.46V230.4M414.5 226.15V230.4M415.5 226.84V230.4M416.5 227.53V230.4M417.5 228.22V230.4M418.5 228.91V230.4M419.5 229.6V230.4M420.5 223V230.4M421.5 223.73V230.4M422.5 224.47V230.4M423.5 225.2V230.4M424.5 225.93V230.4M425.5 226.67V230.4M426.5 227.4V230.4M427.5 228.13V230.4M428.5 228.87V230.4M429.5 229.6V230.4M430.5 225.5V230.4M431.5 226.32V230.4M432.5 227.14V230.4M433.5 227.96V230.4M434.5 228.78V230.4M435.5 229.6V230.4M436.5 225.29V230.4M437.5 227.44V230.4M438.5 229.6V230.4M439.9 224.83V230.4M440.9 225.62V230.4M441.9 226.42V230.4M442.9 227.21V230.4M443.9 228.01V230.4M444.9 228.8V230.4M445.9 229.6V230.4M446.5 223.5V230.4M447.5 225.03V230.4M448.5 226.55V230.4M449.5 228.07V230.4M450.5 229.6V230.4M451.5 226.5V230.4M452.5 227.53V230.4M453.5 228.57V230.4M454.5 229.6V230.4M455.5 224.77V230.4M456.5 225.98V230.4M457.5 227.19V230.4M458.5 228.39V230.4M459.5 229.6V230.4M460.5 222.98V230.4M461.5 224.63V230.4M462.5 226.29V230.4M463.5 227.94V230.4M464.5 229.6V230.4M465.5 225.33V230.4M466.5 226.4V230.4M467.5 227.46V230.4M468.5 228.53V230.4M469.5 229.6V230.4M470.5 225.07V230.4M471.5 225.83V230.4M472.5 226.58V230.4M473.5 227.34V230.4M474.5 228.09V230.4M475.5 228.85V230.4M476.5 229.6V230.4M477.5 223.96V230.4M478.5 225.09V230.4M479.5 226.22V230.4M480.5 227.34V230.4M481.5 228.47V230.4M482.5 229.6V230.4M483.5 223V230.4M484.5 224.1V230.4M485.5 225.2V230.4M486.5 226.3V230.4M487.5 227.4V230.4M488.5 228.5V230.4M489.5 229.6V230.4M490.5 225.39V230.4M491.5 226.09V230.4M492.5 226.79V230.4M493.5 227.49V230.4M494.5 228.2V230.4M495.5 228.9V230.4M496.5 229.6V230.4M497.5 226.5V230.4M498.5 227.28V230.4M499.5 228.05V230.4M500.5 228.82V230.4M501.5 229.6V230.4"/>
<rect x="68.6" y="214.8" width="3" height="15.6" fill="#c987cf" fill-opacity="0.75"/>
<rect x="77.3" y="219.8" width="2.2" height="10.6" fill="#c987cf" fill-opacity="0.75"/>
<rect x="83" y="222.3" width="1.6" height="8.1" fill="#c987cf" fill-opacity="0.75"/>
<rect x="124" y="211" width="3.3" height="19.4" fill="#62c3e2" fill-opacity="0.75"/>
<rect x="131" y="217.5" width="2.5" height="12.9" fill="#62c3e2" fill-opacity="0.75"/>
<rect x="137.5" y="220" width="2" height="10.4" fill="#62c3e2" fill-opacity="0.75"/>
<rect x="112.2" y="219.5" width="1" height="10.9" fill="#62c3e2" fill-opacity="0.75"/>
<rect x="116.2" y="219.5" width="1" height="10.9" fill="#62c3e2" fill-opacity="0.75"/>
<rect x="145" y="222.5" width="1.5" height="7.9" fill="#62c3e2" fill-opacity="0.75"/>
<rect x="316.5" y="214" width="5.5" height="16.4" fill="#f6c08a" fill-opacity="0.75"/>
<rect x="296" y="209" width="1.2" height="21.4" fill="#f6c08a" fill-opacity="0.75"/>
<rect x="243" y="212" width="2" height="18.4" fill="#f6c08a" fill-opacity="0.75"/>
<rect x="449" y="222.5" width="2" height="7.9" fill="#79c472" fill-opacity="0.75"/>
<rect x="441" y="219.5" width="2" height="10.9" fill="#79c472" fill-opacity="0.75"/>
<path fill="none" stroke="#111" stroke-width="1" d="M52.8 213.5L52.8 223.99M62.8 214.5L62.8 224.47M70.3 217.3L70.3 224.68M76.3 219.5L76.3 225.27M82.8 222L82.8 224.46M87.8 224.5L87.8 226M94 227.3L94 228.8M97.8 218.3L97.8 219.5M99 229.8L99.6 227.75L101.52 228.35L102.12 229.8M103.3 219L103.3 220.5M104.5 229.8L105.1 228.15L106.36 228.75L106.96 229.8M108.68 229.8L109.28 228.39L110.68 228.99L111.28 229.8M112.45 229.8L113.05 227.48L114.04 228.08L114.64 229.8M116.75 229.8L117.35 227.6L118.17 228.2L118.77 229.8M119.81 229.8L120.41 228.27L121.87 228.87L122.47 229.8M124 214L124 224.99M125.2 229.8L125.8 228.18L126.69 228.78L127.29 229.8M130.3 217L130.3 224.99M131.5 229.8L132.1 227.44L133.11 228.04L133.71 229.8M137.3 219.5L137.3 224.21M138.5 229.8L139.1 227.46L139.99 228.06L140.59 229.8M144.3 222L144.3 225.37M145.5 229.8L146.1 228.1L147.95 228.7L148.55 229.8M150.3 225.5L150.3 227M151.5 229.8L152.1 228.33L152.9 228.93L153.5 229.8M155.8 194.3L155.8 226.51M157.3 196.6L157.3 221.51M158.5 229.8L159.1 228.06L160.65 228.66L161.25 229.8M165.3 199.2L165.3 224.77M166.5 229.8L167.1 228.08L168.37 228.68L168.97 229.8M170.59 229.8L171.19 228.34L172.78 228.94L173.38 229.8M177.8 200L177.8 221.59M181.3 200.3L181.3 224.5M182.5 229.8L183.1 228.38L184.88 228.98L185.48 229.8M187.62 229.8L188.22 227.82L189.33 228.42L189.93 229.8M190.75 229.8L191.35 228.22L192.02 228.82L192.62 229.8M195.04 229.8L195.64 227.64L196.51 228.24L197.11 229.8M200.3 201.5L200.3 225.27M201.5 229.8L202.1 228.05L203.18 228.65L203.78 229.8M208.3 202L208.3 224.6M209.5 229.8L210.1 227.65L210.85 228.25L211.45 229.8M215.3 203L215.3 224.94M219.3 203.5L219.3 221.65M220.5 229.8L221.1 228.31L223.02 228.91L223.62 229.8M225.3 204.5L225.3 223.94M226.5 229.8L227.1 228.06L228.99 228.66L229.59 229.8M231.96 229.8L232.56 228.09L233.92 228.69L234.52 229.8M237.8 208L237.8 222.21M242.2 211L242.2 221.81M243.4 229.8L244 227.71L244.81 228.31L245.41 229.8M250.3 213L250.3 222.15M251.5 229.8L252.1 227.41L252.77 228.01L253.37 229.8M258.3 215L258.3 223.12M259.5 229.8L260.1 227.81L261.03 228.41L261.63 229.8M266.3 217L266.3 223.32M267.5 229.8L268.1 228.34L269.29 228.94L269.89 229.8M275.3 219.5L275.3 221.63M276.5 229.8L277.1 227.56L278.39 228.16L278.99 229.8M282.3 222.5L282.3 224.43M283.5 229.8L284.1 227.77L286.03 228.37L286.63 229.8M287.3 225L287.3 226.5M291.3 208.5L291.3 223.24M292.5 229.8L293.1 227.56L293.91 228.16L294.51 229.8M297.3 210.5L297.3 223.31M298.5 229.8L299.1 227.55L301.1 228.15L301.7 229.8M303.3 212.5L303.3 223.31M304.5 229.8L305.1 227.67L306.38 228.27L306.98 229.8M308.6 229.8L309.2 228L310.21 228.6L310.81 229.8M311.85 229.8L312.45 227.41L313.58 228.01L314.18 229.8M315.3 213.5L315.3 224.01M316.5 229.8L317.1 228.06L318.4 228.66L319 229.8M319.95 229.8L320.55 227.62L321.53 228.22L322.13 229.8M323.3 215.5L323.3 222.95M324.5 229.8L325.1 227.63L326.8 228.23L327.4 229.8M329.38 229.8L329.98 227.64L331.51 228.24L332.11 229.8M333.3 218L333.3 224.32M334.5 229.8L335.1 227.91L336.09 228.51L336.69 229.8M340.3 220L340.3 224.26M341.5 229.8L342.1 227.45L343.11 228.05L343.71 229.8M347.3 223L347.3 224.5M348.5 229.8L349.1 227.85L349.72 228.45L350.32 229.8M351.54 229.8L352.14 227.94L353.68 228.54L354.28 229.8M356.8 205L356.8 224.09M358 229.8L358.6 228.05L360.32 228.65L360.92 229.8M362.3 205.5L362.3 224.45M363.5 229.8L364.1 228.05L365.86 228.65L366.46 229.8M368.3 206L368.3 224.98M369.5 229.8L370.1 227.42L371.66 228.02L372.26 229.8M374 206.5L374 223.57M375.2 229.8L375.8 228.23L377.14 228.83L377.74 229.8M379 207.5L379 225.25M380.2 229.8L380.8 227.71L382.07 228.31L382.67 229.8M384.1 219L384.1 224.42M385.3 229.8L385.9 227.62L386.74 228.22L387.34 229.8M392.3 219.5L392.3 224.16M393.5 229.8L394.1 227.78L395.29 228.38L395.89 229.8M398.01 229.8L398.61 227.68L400.1 228.28L400.7 229.8M401.54 229.8L402.14 227.96L402.97 228.56L403.57 229.8M405.3 209.8L405.3 222.38M406.5 229.8L407.1 227.77L408.66 228.37L409.26 229.8M410.3 210.8L410.3 223.39M411.5 229.8L412.1 228.35L413.02 228.95L413.62 229.8M414.64 229.8L415.24 228.22L416.29 228.82L416.89 229.8M420.3 221.5L420.3 223M421.5 229.8L422.1 228.02L423.35 228.62L423.95 229.8M425.79 229.8L426.39 228.16L427.82 228.76L428.42 229.8M430.3 224L430.3 225.5M431.5 229.8L432.1 228.12L433.27 228.72L433.87 229.8M436.3 212L436.3 225.29M439.7 219L439.7 224.83M440.9 229.8L441.5 228.36L442.62 228.96L443.22 229.8M446.3 222L446.3 223.5M447.5 229.8L448.1 228.06L449.46 228.66L450.06 229.8M451.3 225L451.3 226.5M455.3 212L455.3 224.77M456.5 229.8L457.1 227.59L458.29 228.19L458.89 229.8M460.3 213.5L460.3 222.98M461.5 229.8L462.1 227.8L462.9 228.4L463.5 229.8M465.3 215L465.3 225.33M466.5 229.8L467.1 227.79L469.06 228.39L469.66 229.8M470.3 217L470.3 225.07M471.5 229.8L472.1 228.29L472.7 228.89L473.3 229.8M477.3 218.5L477.3 223.96M478.5 229.8L479.1 227.77L479.9 228.37L480.5 229.8M483.3 220.5L483.3 223M484.5 229.8L485.1 228.17L486.3 228.77L486.9 229.8M490.3 222.5L490.3 225.39M491.5 229.8L492.1 227.44L493.23 228.04L493.83 229.8M497.3 225L497.3 226.5M498.5 229.8L499.1 227.42L500.06 228.02L500.66 229.8M52.5 213.5L62.5 213.5M62.5 213.5L62.5 214.5M62.5 214.5L70 214.5M70 214.5L70 217.3M70 217.3L76 217.3M76 217.3L76 219.5M76 219.5L82.5 219.5M82.5 219.5L82.5 222M82.5 222L87.5 222M87.5 222L87.5 224.5M87.5 224.5L93.7 224.5M93.7 224.5L93.7 227.3M93.7 227.3L97.5 227.3M97.5 218.3L100.5 218.3M103 218.3L103 219M103 219L106 219M123.7 214L130 214M130 214L130 217M130 217L137 217M137 217L137 219.5M137 219.5L144 219.5M144 219.5L144 222M144 222L150 222M150 222L150 225.5M150 225.5L155.5 225.5M155.5 194.3L157 194.3M157 194.3L157 196.6M157 196.6L165 196.6M165 196.6L165 199.2M165 199.2L177.5 199.2M177.5 199.2L177.5 200M177.5 200L181 200M181 200L181 200.3M181 200.3L200 200.3M200 200.3L200 201.5M200 201.5L208 201.5M208 201.5L208 202M208 202L215 202M215 202L215 203M215 203L219 203M219 203L219 203.5M219 203.5L225 203.5M225 203.5L225 204.5M225 204.5L237.5 204.5M237.5 204.5L237.5 208M237.5 208L241.9 208M241.9 208L241.9 211M241.9 211L250 211M250 211L250 213M250 213L258 213M258 213L258 215M258 215L266 215M266 215L266 217M266 217L275 217M275 217L275 219.5M275 219.5L282 219.5M282 219.5L282 222.5M282 222.5L287 222.5M287 222.5L287 225M287 225L291 225M291 208.5L297 208.5M297 208.5L297 210.5M297 210.5L303 210.5M303 210.5L303 212.5M303 212.5L315 212.5M315 212.5L315 213.5M315 213.5L323 213.5M323 213.5L323 215.5M323 215.5L333 215.5M333 215.5L333 218M333 218L340 218M340 218L340 220M340 220L347 220M347 220L347 223M347 223L356.5 223M356.5 205L362 205M362 205L362 205.5M362 205.5L368 205.5M368 205.5L368 206M368 206L373.7 206M373.7 206L373.7 206.5M373.7 206.5L378.7 206.5M378.7 206.5L378.7 207.5M378.7 207.5L383.8 207.5M383.8 219L392 219M392 219L392 219.5M392 219.5L405 219.5M405 209.8L410 209.8M410 209.8L410 210.8M410 210.8L420 210.8M420 221.5L430 221.5M430 221.5L430 224M430 224L436 224M436 212L439.4 212M439.4 219L446 219M446 219L446 222M446 222L451 222M451 222L451 225M451 225L455 225M455 212L460 212M460 212L460 213.5M460 213.5L465 213.5M465 213.5L465 215M465 215L470 215M470 215L470 217M470 217L477 217M477 217L477 218.5M477 218.5L483 218.5M483 218.5L483 220.5M483 220.5L490 220.5M490 220.5L490 222.5M490 222.5L497 222.5M497 222.5L497 225M497 225L502 225"/>
<path fill="none" stroke="#111" stroke-width="1.3" d="M52.8 223.99L62.2 229.6M62.8 224.47L69.7 229.6M70.3 224.68L75.7 229.6M76.3 225.27L82.2 229.6M82.8 224.46L87.2 229.6M87.8 226L93.4 229.6M94 228.8L97.2 229.6M97.8 219.5L102.7 229.6M103.3 220.5L123.4 229.6M124 224.99L129.7 229.6M130.3 224.99L136.7 229.6M137.3 224.21L143.7 229.6M144.3 225.37L149.7 229.6M150.3 227L155.2 229.6M155.8 226.51L156.7 229.6M157.3 221.51L164.7 229.6M165.3 224.77L177.2 229.6M177.8 221.59L180.7 229.6M181.3 224.5L199.7 229.6M200.3 225.27L207.7 229.6M208.3 224.6L214.7 229.6M215.3 224.94L218.7 229.6M219.3 221.65L224.7 229.6M225.3 223.94L237.2 229.6M237.8 222.21L241.6 229.6M242.2 221.81L249.7 229.6M250.3 222.15L257.7 229.6M258.3 223.12L265.7 229.6M266.3 223.32L274.7 229.6M275.3 221.63L281.7 229.6M282.3 224.43L286.7 229.6M287.3 226.5L290.7 229.6M291.3 223.24L296.7 229.6M297.3 223.31L302.7 229.6M303.3 223.31L314.7 229.6M315.3 224.01L322.7 229.6M323.3 222.95L332.7 229.6M333.3 224.32L339.7 229.6M340.3 224.26L346.7 229.6M347.3 224.5L356.2 229.6M356.8 224.09L361.7 229.6M362.3 224.45L367.7 229.6M368.3 224.98L373.4 229.6M374 223.57L378.4 229.6M379 225.25L383.5 229.6M384.1 224.42L391.7 229.6M392.3 224.16L404.7 229.6M405.3 222.38L409.7 229.6M410.3 223.39L419.7 229.6M420.3 223L429.7 229.6M430.3 225.5L435.7 229.6M436.3 225.29L439.1 229.6M439.7 224.83L445.7 229.6M446.3 223.5L450.7 229.6M451.3 226.5L454.7 229.6M455.3 224.77L459.7 229.6M460.3 222.98L464.7 229.6M465.3 225.33L469.7 229.6M470.3 225.07L476.7 229.6M477.3 223.96L482.7 229.6M483.3 223L489.7 229.6M490.3 225.39L496.7 229.6M497.3 226.5L501.7 229.6"/>
<polyline fill="none" stroke="#111" stroke-width="1.0" points="59.4,213.5 59.4,194 157,194 157,194.6 200,194.6 200,195.2 260,195.2 260,195.8 320,195.8 320,196.4 362.1,196.4 362.1,205"/>
<line x1="111.3" y1="194" x2="111.3" y2="210" stroke="#111" stroke-width="0.9"/>
<line x1="110.6" y1="192.3" x2="110.6" y2="194" stroke="#111" stroke-width="0.9"/>
<line x1="99.4" y1="210" x2="123.7" y2="210" stroke="#111" stroke-width="0.9"/>
<line x1="99.4" y1="210" x2="99.4" y2="218.3" stroke="#111" stroke-width="0.9"/>
<line x1="123.7" y1="210" x2="123.7" y2="214" stroke="#111" stroke-width="0.9"/>
<line x1="158" y1="196.6" x2="158" y2="225" stroke="#111" stroke-width="0.9"/>
<line x1="165" y1="199.2" x2="165" y2="222" stroke="#111" stroke-width="0.9"/>
<line x1="177.8" y1="197" x2="177.8" y2="229" stroke="#111" stroke-width="0.9"/>
<line x1="230" y1="204.5" x2="253" y2="204.5" stroke="#111" stroke-width="0.9"/>
<line x1="237.5" y1="208" x2="297" y2="208" stroke="#111" stroke-width="0.9"/>
<line x1="237.5" y1="204.5" x2="237.5" y2="208" stroke="#111" stroke-width="0.9"/>
<line x1="291" y1="208" x2="291" y2="225" stroke="#111" stroke-width="0.9"/>
<polyline fill="none" stroke="#111" stroke-width="1.0" points="356.9,205 373.7,205 373.7,206.5 378.7,206.5 378.7,207.5 387.5,207.5 387.5,209.8 410,209.8 410,210.8 430,210.8 430,212 460,212 460,213.5 465,213.5 465,215 470,215 470,217 477,217 477,218.5 483,218.5 483,220.5 490,220.5 490,222.5 497,222.5 497,225 502,225 502,229"/>
<line x1="392.5" y1="209.8" x2="392.5" y2="219" stroke="#111" stroke-width="0.9"/>
<line x1="383.8" y1="219" x2="405" y2="219" stroke="#111" stroke-width="0.9"/>
<line x1="423.8" y1="210.8" x2="423.8" y2="221.5" stroke="#111" stroke-width="0.9"/>
<line x1="420" y1="221.5" x2="436" y2="221.5" stroke="#111" stroke-width="0.9"/>
<line x1="439.4" y1="212" x2="439.4" y2="219" stroke="#111" stroke-width="0.9"/>
<line x1="439.4" y1="219" x2="455" y2="219" stroke="#111" stroke-width="0.9"/>
<polyline fill="none" stroke="#111" stroke-width="1.0" points="237.5,208 297,208 297,210.5"/>
<polyline fill="none" stroke="#111" stroke-width="1.0" points="165,199.2 177.5,199.2 177.5,200 200,200 200,201.5 215,201.5 215,203 225,203 225,204.5 253,204.5"/>
<polyline fill="none" stroke="#111" stroke-width="1.0" points="241.9,211 250,211 250,213 258,213 258,215 266,215 266,217 275,217 275,219.5 282,219.5 282,222.5 287,222.5 287,225 291,225"/>
<polyline fill="none" stroke="#111" stroke-width="1.0" points="291,208.5 297,208.5 297,210.5 303,210.5 303,212.5 315,212.5 315,213.5 323,213.5 323,215.5 333,215.5 333,218 340,218 340,220 347,220 347,223 356,223"/>
<line x1="356.9" y1="205" x2="356.9" y2="229" stroke="#f6c08a" stroke-width="0.9"/>
<line x1="295" y1="208" x2="295" y2="231" stroke="#f6c08a" stroke-width="0.9"/>
<line x1="223" y1="205" x2="223" y2="231" stroke="#f6c08a" stroke-width="0.9"/>
<path fill="#984ea3" d="M52 234.8h1V273.9h-1zM53 234.8h1V273.9h-1zM54 234.8h1V273.9h-1zM55 234.8h1V273.9h-1zM56 234.8h1V273.9h-1zM57 234.8h1V273.9h-1zM58 234.8h1V273.9h-1zM59 234.8h1V273.9h-1zM60 234.8h1V297h-1zM61 234.8h1V297h-1zM62 234.8h1V297h-1zM63 234.8h1V297h-1zM64 234.8h1V297h-1zM65 234.8h1V297h-1zM66 234.8h1V297h-1zM67 234.8h1V297h-1zM68 234.8h1V297h-1zM69 234.8h1V297h-1zM70 234.8h1V297h-1zM71 234.8h1V297h-1zM72 234.8h1V297h-1zM73 234.8h1V297h-1zM74 234.8h1V297h-1zM75 234.8h1V297h-1zM76 234.8h1V297h-1zM77 234.8h1V297h-1zM78 234.8h1V297h-1zM79 234.8h1V297h-1zM80 234.8h1V297h-1zM81 234.8h1V297h-1zM82 234.8h1V297h-1zM83 234.8h1V297h-1zM84 234.8h1V297h-1zM85 234.8h1V297h-1zM86 234.8h1V297h-1zM87 234.8h1V297h-1zM88 234.8h1V297h-1zM89 234.8h1V297h-1zM90 234.8h1V297h-1zM91 234.8h1V297h-1zM92 234.8h1V297h-1zM93 234.8h1V297h-1zM94 234.8h1V297h-1zM95 234.8h1V297h-1zM96 234.8h1V297h-1z"/>
<path fill="#5d6cb3" d="M52 273.9h1V275.3h-1zM53 273.9h1V275.3h-1zM54 273.9h1V275.3h-1zM55 273.9h1V275.3h-1zM56 273.9h1V275.3h-1zM57 273.9h1V275.3h-1zM58 273.9h1V275.3h-1zM59 273.9h1V275.3h-1zM97 234.8h1V266.5h-1zM98 234.8h1V266.5h-1zM99 234.8h1V266.5h-1zM100 234.8h1V269.3h-1zM101 234.8h1V269.3h-1zM102 234.8h1V269.3h-1zM103 234.8h1V269.3h-1zM104 234.8h1V269.3h-1zM105 234.8h1V269.3h-1zM106 234.8h1V269.3h-1zM107 234.8h1V269.3h-1zM108 234.8h1V269.3h-1zM109 234.8h1V269.3h-1zM110 234.8h1V269.3h-1zM111 234.8h1V269.3h-1zM112 234.8h1V269.3h-1zM113 234.8h1V269.3h-1zM114 234.8h1V269.3h-1zM115 234.8h1V269.3h-1zM116 234.8h1V269.3h-1zM117 234.8h1V269.3h-1zM118 234.8h1V269.3h-1zM119 234.8h1V269.3h-1zM120 234.8h1V269.3h-1zM121 234.8h1V269.3h-1zM122 234.8h1V269.3h-1zM123 234.8h1V238.67h-1zM124 234.8h1V238.35h-1zM125 234.8h1V238.6h-1zM126 234.8h1V237.7h-1zM127 234.8h1V237.6h-1zM128 234.8h1V237.47h-1zM129 234.8h1V236.5h-1zM130 234.8h1V236.69h-1zM131 234.8h1V236.33h-1zM132 234.8h1V235.84h-1z"/>
<path fill="#45b5d6" d="M52 275.3h1V277h-1zM53 275.3h1V277h-1zM54 275.3h1V277h-1zM55 275.3h1V277h-1zM56 275.3h1V277h-1zM57 275.3h1V277h-1zM58 275.3h1V277h-1zM59 275.3h1V277h-1zM97 266.5h1V288.3h-1zM98 266.5h1V288.3h-1zM99 266.5h1V288.3h-1zM100 269.3h1V288.3h-1zM101 269.3h1V288.3h-1zM102 269.3h1V288.3h-1zM103 269.3h1V288.3h-1zM104 269.3h1V288.3h-1zM105 269.3h1V288.3h-1zM106 269.3h1V288.3h-1zM107 269.3h1V288.3h-1zM108 269.3h1V288.3h-1zM109 269.3h1V288.3h-1zM110 269.3h1V288.3h-1zM111 269.3h1V288.3h-1zM112 269.3h1V288.3h-1zM113 269.3h1V288.3h-1zM114 269.3h1V288.3h-1zM115 269.3h1V288.3h-1zM116 269.3h1V288.3h-1zM117 269.3h1V288.3h-1zM118 269.3h1V288.3h-1zM119 269.3h1V288.3h-1zM120 269.3h1V288.3h-1zM121 269.3h1V288.3h-1zM122 269.3h1V288.3h-1zM123 238.67h1V297h-1zM124 238.35h1V297h-1zM125 238.6h1V297h-1zM126 237.7h1V297h-1zM127 237.6h1V297h-1zM128 237.47h1V297h-1zM129 236.5h1V297h-1zM130 236.69h1V297h-1zM131 236.33h1V297h-1zM132 235.84h1V297h-1zM133 234.8h1V297h-1zM134 234.8h1V297h-1zM135 234.8h1V297h-1zM136 234.8h1V297h-1zM137 234.8h1V297h-1zM138 234.8h1V297h-1zM139 234.8h1V297h-1zM140 234.8h1V297h-1zM141 234.8h1V297h-1zM142 234.8h1V297h-1zM143 234.8h1V297h-1zM144 234.8h1V297h-1zM145 234.8h1V297h-1zM146 234.8h1V297h-1zM147 234.8h1V297h-1zM148 234.8h1V297h-1zM149 234.8h1V297h-1zM150 234.8h1V297h-1zM151 234.8h1V297h-1zM152 234.8h1V297h-1zM153 234.8h1V297h-1zM154 234.8h1V297h-1z"/>
<path fill="#e9643a" d="M52 277h1V295.7h-1zM53 277h1V295.7h-1zM54 277h1V295.7h-1zM55 277h1V295.7h-1zM56 277h1V295.7h-1zM57 277h1V295.7h-1zM58 277h1V295.7h-1zM59 277h1V295.7h-1zM156 248.38h1V256h-1zM157 248.36h1V256h-1zM176 263.06h1V266.99h-1zM177 259.97h1V265.19h-1zM178 259.01h1V266.64h-1zM179 258.26h1V268.48h-1zM180 260.03h1V269.45h-1zM181 258.33h1V270.77h-1zM182 257h1V272.87h-1zM183 258.02h1V272.46h-1zM184 255.52h1V266.16h-1zM185 256.76h1V261.68h-1zM186 255.53h1V264.08h-1zM187 254.29h1V261.26h-1zM188 255.62h1V264.5h-1zM189 254.34h1V263.27h-1zM190 254.85h1V261.27h-1zM191 256.85h1V264.12h-1zM192 254.61h1V261.65h-1zM193 256.18h1V262.13h-1zM194 255.05h1V262.35h-1zM195 254.02h1V264.32h-1zM196 254.8h1V262.77h-1zM222 287.4h1V297h-1zM223 287.4h1V297h-1zM224 287.4h1V297h-1zM225 287.4h1V297h-1zM226 287.4h1V297h-1zM227 287.4h1V297h-1zM228 287.4h1V297h-1zM234 290h1V297h-1zM235 290h1V297h-1zM236 290h1V297h-1zM237 290h1V297h-1zM238 290h1V297h-1zM239 290h1V297h-1zM240 287.97h1V297h-1zM241 288.49h1V297h-1zM242 288.93h1V297h-1zM243 290.47h1V297h-1zM244 290.63h1V297h-1zM245 288h1V297h-1zM246 290.76h1V297h-1zM247 290.53h1V297h-1zM270 295.3h1V297h-1zM271 295.3h1V297h-1zM272 295.3h1V297h-1zM273 295.3h1V297h-1zM274 295.3h1V297h-1zM275 295.3h1V297h-1zM276 295.3h1V297h-1zM277 295.3h1V297h-1zM278 295.3h1V297h-1zM279 295.3h1V297h-1zM280 295.3h1V297h-1zM281 295.3h1V297h-1zM282 295.3h1V297h-1zM283 295.3h1V297h-1zM284 295.3h1V297h-1zM285 295.3h1V297h-1zM286 295.3h1V297h-1zM287 295.3h1V297h-1zM288 295.3h1V297h-1zM289 295.3h1V297h-1zM290 295.3h1V297h-1zM291 295.3h1V297h-1zM292 295.3h1V297h-1zM293 295.3h1V297h-1zM294 295.3h1V297h-1zM295 294.5h1V297h-1zM296 294.5h1V297h-1zM297 294.5h1V297h-1zM298 294.5h1V297h-1zM299 294.5h1V297h-1zM300 294.5h1V297h-1zM301 294.5h1V297h-1zM302 294.5h1V297h-1zM303 294.5h1V297h-1zM304 294.5h1V297h-1zM305 294.5h1V297h-1zM356 274h1V281h-1zM357 274h1V281h-1zM358 274h1V281h-1zM360 246h1V266.3h-1zM361 246h1V266.13h-1zM362 246h1V269.49h-1zM363 246h1V266.17h-1zM364 246h1V268.83h-1zM365 237.6h1V244.17h-1zM366 237.6h1V244.7h-1zM367 237.6h1V243.13h-1zM368 237.6h1V242.86h-1zM369 237.6h1V243.37h-1zM370 237.6h1V254.91h-1zM371 237.6h1V255.87h-1zM372 237.6h1V256.37h-1zM373 237.6h1V257.1h-1zM374 237.6h1V255.28h-1zM375 237.6h1V244.23h-1zM376 237.6h1V244.93h-1zM377 237.6h1V244.23h-1zM378 237.6h1V244.63h-1zM379 237.6h1V245.05h-1zM380 237.6h1V245.61h-1zM381 237.6h1V245.7h-1zM382 237.6h1V239.01h-1zM383 237.6h1V240.53h-1zM384 237.6h1V239.89h-1zM385 237.6h1V240.98h-1zM386 237.6h1V240.17h-1zM387 237.6h1V240.71h-1zM388 237.6h1V238.41h-1zM389 237.6h1V237.79h-1zM390 237.6h1V239.26h-1zM391 237.6h1V239.02h-1zM392 237.6h1V255.99h-1zM393 237.6h1V256.25h-1zM394 237.6h1V255.88h-1zM395 237.6h1V256.25h-1zM396 237.6h1V254.98h-1zM397 237.6h1V255.28h-1zM398 237.6h1V256.14h-1zM399 237.6h1V254.44h-1zM400 237.6h1V254.6h-1zM401 237.6h1V254.94h-1zM402 237.6h1V256.5h-1zM403 237.6h1V255.04h-1zM404 237.6h1V256.5h-1zM405 237.6h1V240.45h-1zM406 237.6h1V239.98h-1zM407 237.6h1V239.01h-1zM408 237.6h1V240.06h-1zM409 237.6h1V240.55h-1zM410 237.6h1V238.05h-1zM411 237.6h1V238.14h-1zM412 237.6h1V237.71h-1zM413 237.6h1V238.96h-1zM414 237.6h1V238.84h-1zM415 237.6h1V238.06h-1zM417 237.6h1V238.01h-1zM419 237.6h1V238.04h-1zM420 237.6h1V238.72h-1zM421 237.6h1V237.98h-1zM423 237.6h1V237.79h-1zM424 237.6h1V247.02h-1zM425 237.6h1V245.94h-1zM426 237.6h1V246.76h-1zM427 237.6h1V245.56h-1zM428 237.6h1V247.02h-1zM429 237.6h1V244.85h-1zM430 237.6h1V246.45h-1zM431 237.6h1V246.29h-1zM434 237.6h1V237.7h-1zM436 237.6h1V240.33h-1zM437 237.6h1V240.27h-1zM438 237.6h1V240.58h-1zM439 237.6h1V239.56h-1zM440 237.6h1V239.32h-1zM441 237.6h1V239.12h-1zM442 237.6h1V239.92h-1zM443 237.6h1V240.85h-1zM444 237.6h1V241.57h-1zM445 237.6h1V242.2h-1zM446 237.6h1V241.91h-1zM447 237.6h1V240.63h-1zM448 237.6h1V241.58h-1zM449 237.6h1V240.69h-1zM450 237.6h1V242.8h-1zM451 237.6h1V242.79h-1zM452 237.6h1V241.38h-1zM453 237.6h1V241.71h-1zM454 237.6h1V241.19h-1zM455 237.6h1V244.77h-1zM456 237.6h1V249.94h-1zM457 237.6h1V249.31h-1zM458 237.6h1V250.16h-1zM459 237.6h1V249.67h-1zM460 237.6h1V249.91h-1zM461 237.6h1V248.77h-1zM462 237.6h1V244.33h-1zM463 237.6h1V241.32h-1zM464 237.6h1V241.51h-1zM465 237.6h1V241.91h-1zM466 237.6h1V242.11h-1zM467 237.6h1V242.85h-1zM468 237.6h1V242.21h-1zM469 237.6h1V240.49h-1zM470 237.6h1V240.54h-1zM471 237.6h1V241.55h-1zM472 237.6h1V241.53h-1zM473 237.6h1V242.04h-1zM474 237.6h1V241.86h-1zM475 237.6h1V240.35h-1zM476 237.6h1V241.37h-1zM477 237.6h1V240.84h-1zM478 237.6h1V239.88h-1zM479 237.6h1V238.75h-1zM482 237.6h1V238.75h-1zM483 237.6h1V238.87h-1zM486 237.6h1V238.33h-1zM487 237.6h1V238.56h-1zM488 237.6h1V237.69h-1zM490 237.6h1V237.69h-1zM492 237.6h1V238.99h-1zM494 237.6h1V238.48h-1zM496 237.6h1V238.02h-1zM498 237.6h1V238.8h-1zM501 237.6h1V238.22h-1z"/>
<path fill="#f6d9c0" d="M52 295.7h1V297h-1zM53 295.7h1V297h-1zM54 295.7h1V297h-1zM55 295.7h1V297h-1zM56 295.7h1V297h-1zM57 295.7h1V297h-1zM58 295.7h1V297h-1zM59 295.7h1V297h-1z"/>
<path fill="#ee9a4a" d="M97 288.3h1V292h-1zM98 288.3h1V292h-1zM99 288.3h1V292h-1zM100 288.3h1V292h-1zM101 288.3h1V292h-1zM102 288.3h1V292h-1zM103 288.3h1V292h-1zM104 288.3h1V292h-1zM105 288.3h1V292h-1zM106 288.3h1V292h-1zM107 288.3h1V292h-1zM108 288.3h1V292h-1zM109 288.3h1V292h-1zM110 288.3h1V292h-1zM111 288.3h1V292h-1zM112 288.3h1V292h-1zM113 288.3h1V292h-1zM114 288.3h1V292h-1zM115 288.3h1V292h-1zM116 288.3h1V292h-1zM117 288.3h1V292h-1zM118 288.3h1V292h-1zM119 288.3h1V292h-1zM120 288.3h1V292h-1zM121 288.3h1V292h-1zM122 288.3h1V292h-1z"/>
<path fill="#5aa333" d="M97 292h1V297h-1zM98 292h1V297h-1zM99 292h1V297h-1zM100 292h1V297h-1zM101 292h1V297h-1zM102 292h1V297h-1zM103 292h1V297h-1zM104 292h1V297h-1zM105 292h1V297h-1zM106 292h1V297h-1zM107 292h1V297h-1zM108 292h1V297h-1zM109 292h1V297h-1zM110 292h1V297h-1zM111 292h1V297h-1zM112 292h1V297h-1zM113 292h1V297h-1zM114 292h1V297h-1zM115 292h1V297h-1zM116 292h1V297h-1zM117 292h1V297h-1zM118 292h1V297h-1zM119 292h1V297h-1zM120 292h1V297h-1zM121 292h1V297h-1zM122 292h1V297h-1zM356 290h1V297h-1zM357 290h1V297h-1zM358 290h1V297h-1zM360 285h1V297h-1zM361 285h1V297h-1zM362 285h1V297h-1zM363 285h1V297h-1zM364 285h1V297h-1zM365 293.28h1V297h-1zM366 283.67h1V297h-1zM367 280.59h1V297h-1zM368 281.97h1V297h-1zM369 278.77h1V297h-1zM370 285.29h1V297h-1zM371 286.54h1V297h-1zM372 289.39h1V297h-1zM373 289.54h1V297h-1zM374 288.65h1V297h-1zM375 285.22h1V297h-1zM376 292.3h1V297h-1zM377 289.08h1V297h-1zM378 293.28h1V297h-1zM379 292.53h1V297h-1zM380 290.54h1V297h-1zM381 295.41h1V297h-1zM382 296.14h1V297h-1zM383 289.42h1V297h-1zM384 294.38h1V297h-1zM385 292.03h1V297h-1zM386 295.84h1V297h-1zM387 295.71h1V297h-1zM388 292.36h1V297h-1zM389 292.28h1V297h-1zM390 290.85h1V297h-1zM391 286.28h1V297h-1zM392 293.45h1V297h-1zM393 290.71h1V297h-1zM394 290.01h1V297h-1zM395 296.08h1V297h-1zM396 289.24h1V297h-1zM397 292.45h1V297h-1zM398 290.89h1V297h-1zM399 292.78h1V297h-1zM400 292.87h1V297h-1zM401 290.02h1V297h-1zM402 289.6h1V297h-1zM403 293.9h1V297h-1zM407 294.49h1V297h-1zM408 295.86h1V297h-1zM411 296.81h1V297h-1zM413 295.87h1V297h-1zM424 286.42h1V297h-1zM425 276.25h1V297h-1zM426 277.8h1V297h-1zM427 276.38h1V297h-1zM428 276.26h1V297h-1zM429 276.39h1V297h-1zM430 273.14h1V297h-1zM431 268.38h1V297h-1zM432 267.52h1V297h-1zM433 265.89h1V297h-1zM434 264.58h1V297h-1zM435 263.66h1V297h-1zM436 263.81h1V297h-1zM437 263.96h1V297h-1zM438 263.37h1V297h-1zM439 261.88h1V297h-1zM440 254.5h1V297h-1zM441 244.47h1V297h-1zM442 244.17h1V297h-1zM443 261.59h1V297h-1zM444 265.63h1V297h-1zM445 263.98h1V297h-1zM446 244.92h1V297h-1zM447 252.78h1V297h-1zM448 244.91h1V297h-1zM449 269.03h1V297h-1zM450 254.94h1V297h-1zM451 244.75h1V297h-1zM452 244.75h1V297h-1zM453 271.75h1V297h-1zM454 268.24h1V297h-1zM455 265.12h1V297h-1zM456 271.89h1V297h-1zM457 269.03h1V297h-1zM458 271.55h1V297h-1zM459 272.17h1V297h-1zM460 271.12h1V297h-1zM461 268.75h1V297h-1zM462 269.99h1V297h-1zM463 245.52h1V297h-1zM464 244.93h1V297h-1zM465 244.38h1V297h-1zM466 244.98h1V297h-1zM467 243.85h1V297h-1zM468 244.06h1V297h-1zM469 243.92h1V297h-1zM470 244.02h1V297h-1zM471 244.52h1V297h-1zM472 245.47h1V297h-1zM473 243.62h1V297h-1zM474 243.54h1V297h-1zM475 262.29h1V297h-1zM476 243.54h1V297h-1zM477 244.46h1V297h-1zM478 243.96h1V297h-1zM479 243.94h1V297h-1zM480 252.24h1V297h-1zM481 244.85h1V297h-1zM482 272.59h1V297h-1zM483 243.45h1V297h-1zM484 244.24h1V297h-1zM485 244.32h1V297h-1zM486 244.19h1V297h-1zM487 264.93h1V297h-1zM488 262.19h1V297h-1zM489 244.09h1V297h-1zM490 243.71h1V297h-1zM491 244.73h1V297h-1zM492 245.06h1V297h-1zM493 243.37h1V297h-1zM494 244.37h1V297h-1zM495 244.48h1V297h-1zM496 244.36h1V297h-1zM497 243.57h1V297h-1zM498 254.03h1V297h-1zM499 243.89h1V297h-1zM500 253.84h1V297h-1zM501 244.11h1V297h-1z"/>
<path fill="#7060a8" d="M155 234.8h1V245h-1z"/>
<path fill="#c9301f" d="M155 245h1V295.7h-1zM156 234.8h1V248.38h-1zM156 256h1V289.82h-1zM157 234.8h1V248.36h-1zM157 256h1V292.86h-1zM158 234.8h1V247.16h-1zM159 234.8h1V243.25h-1zM160 234.8h1V237.5h-1zM161 234.8h1V237.5h-1zM176 247.57h1V263.06h-1zM177 246.72h1V259.97h-1zM178 246.71h1V259.01h-1zM179 246.1h1V258.26h-1zM180 246.99h1V260.03h-1zM181 247.92h1V258.33h-1zM182 247.71h1V257h-1zM183 249.65h1V258.02h-1zM184 247.95h1V255.52h-1zM185 247.54h1V256.76h-1zM186 249.66h1V255.53h-1zM187 248.92h1V254.29h-1zM188 248.36h1V255.62h-1zM189 246.07h1V254.34h-1zM190 246.91h1V254.85h-1zM191 245.71h1V256.85h-1zM192 245.21h1V254.61h-1zM193 245.18h1V256.18h-1zM194 246.82h1V255.05h-1zM195 247.48h1V254.02h-1zM196 245.78h1V254.8h-1zM199 243.17h1V256.91h-1zM200 241.83h1V266.41h-1zM201 238h1V276.4h-1zM202 236.67h1V280.88h-1zM203 234.8h1V287.18h-1zM204 234.8h1V293.56h-1zM205 234.8h1V295.43h-1zM206 234.8h1V297h-1zM207 234.8h1V297h-1zM208 234.8h1V297h-1zM209 234.8h1V297h-1zM210 234.8h1V297h-1zM211 234.8h1V297h-1zM212 234.8h1V297h-1zM213 234.8h1V297h-1zM214 234.8h1V297h-1zM215 246.4h1V297h-1zM216 249.96h1V297h-1zM217 246.85h1V297h-1zM218 234.8h1V297h-1zM219 234.8h1V297h-1zM220 234.8h1V297h-1zM221 234.8h1V297h-1zM222 269h1V287.4h-1zM223 269h1V287.4h-1zM224 269h1V287.4h-1zM225 269h1V287.4h-1zM226 269h1V287.4h-1zM227 269h1V287.4h-1zM228 269h1V287.4h-1zM229 274.73h1V297h-1zM230 276.79h1V297h-1zM231 275.02h1V297h-1zM232 274.89h1V297h-1zM233 273.99h1V297h-1z"/>
<path fill="#e8c49e" d="M155 295.7h1V297h-1zM156 289.82h1V297h-1zM157 292.86h1V297h-1zM158 247.16h1V297h-1zM159 243.25h1V297h-1zM160 237.5h1V297h-1zM161 237.5h1V297h-1zM162 234.8h1V297h-1zM163 234.8h1V297h-1zM164 234.8h1V297h-1zM165 234.8h1V297h-1zM166 234.8h1V297h-1zM167 234.8h1V297h-1zM168 234.8h1V297h-1zM169 234.8h1V297h-1zM170 234.8h1V297h-1zM171 234.8h1V297h-1zM172 234.8h1V297h-1zM173 234.8h1V297h-1zM174 234.8h1V297h-1zM175 234.8h1V297h-1zM176 266.99h1V297h-1zM177 265.19h1V297h-1zM178 266.64h1V297h-1zM179 268.48h1V297h-1zM180 269.45h1V297h-1zM181 270.77h1V297h-1zM182 272.87h1V297h-1zM183 272.46h1V297h-1zM184 266.16h1V297h-1zM185 261.68h1V297h-1zM186 264.08h1V297h-1zM187 261.26h1V297h-1zM188 264.5h1V297h-1zM189 263.27h1V297h-1zM190 261.27h1V297h-1zM191 264.12h1V297h-1zM192 261.65h1V297h-1zM193 262.13h1V297h-1zM194 262.35h1V297h-1zM195 264.32h1V297h-1zM196 262.77h1V297h-1zM197 245.83h1V297h-1zM198 244.5h1V249.91h-1zM198 249.91h1V297h-1zM199 256.91h1V297h-1zM200 266.41h1V297h-1zM201 276.4h1V297h-1zM202 280.88h1V297h-1zM203 287.18h1V297h-1zM204 293.56h1V297h-1zM205 295.43h1V297h-1z"/>
<path fill="#5a79c0" d="M176 234.8h1V247.57h-1zM177 234.8h1V246.72h-1zM178 234.8h1V246.71h-1zM179 234.8h1V246.1h-1zM180 234.8h1V246.99h-1zM181 234.8h1V247.92h-1zM182 234.8h1V247.71h-1zM183 234.8h1V249.65h-1zM184 234.8h1V247.95h-1zM185 234.8h1V247.54h-1zM186 234.8h1V249.66h-1zM187 234.8h1V248.92h-1zM188 234.8h1V248.36h-1zM189 234.8h1V246.07h-1zM190 234.8h1V246.91h-1zM191 234.8h1V245.71h-1zM192 234.8h1V245.21h-1zM193 234.8h1V245.18h-1zM194 234.8h1V246.82h-1zM195 234.8h1V247.48h-1zM196 234.8h1V245.78h-1zM197 234.8h1V243.33h-1zM198 234.8h1V242h-1zM199 234.8h1V240.67h-1zM200 234.8h1V239.33h-1zM201 234.8h1V238h-1zM202 234.8h1V236.67h-1zM222 234.8h1V239.5h-1zM223 234.8h1V239.5h-1zM224 234.8h1V239.5h-1zM225 234.8h1V239.5h-1zM226 234.8h1V239.5h-1zM227 234.8h1V239.5h-1zM228 234.8h1V239.5h-1zM229 234.8h1V239.5h-1zM230 234.8h1V239.5h-1zM231 234.8h1V239.5h-1zM232 234.8h1V239.5h-1zM233 234.8h1V239.5h-1zM240 234.8h1V235.4h-1zM241 234.8h1V235.4h-1zM242 234.8h1V235.4h-1zM243 234.8h1V235.4h-1zM244 234.8h1V235.4h-1zM245 234.8h1V235.4h-1zM246 234.8h1V235.4h-1zM247 234.8h1V235.4h-1zM248 234.8h1V235.4h-1zM249 234.8h1V235.4h-1zM297 234.8h1V236.8h-1zM298 234.8h1V236.8h-1zM299 234.8h1V236.8h-1zM300 234.8h1V236.8h-1zM301 234.8h1V236.8h-1zM302 234.8h1V236.8h-1zM303 234.8h1V236.8h-1zM304 234.8h1V236.8h-1zM305 234.8h1V236.8h-1zM306 234.8h1V236.8h-1zM307 234.8h1V236.8h-1zM318 234.8h1V236.8h-1zM319 234.8h1V236.8h-1zM320 234.8h1V236.8h-1zM321 234.8h1V236.8h-1zM365 234.8h1V237.6h-1zM366 234.8h1V237.6h-1zM367 234.8h1V237.6h-1zM368 234.8h1V237.6h-1zM369 234.8h1V237.6h-1zM370 234.8h1V237.6h-1zM371 234.8h1V237.6h-1zM372 234.8h1V237.6h-1zM373 234.8h1V237.6h-1zM374 234.8h1V237.6h-1zM375 234.8h1V237.6h-1zM376 234.8h1V237.6h-1zM377 234.8h1V237.6h-1zM378 234.8h1V237.6h-1zM379 234.8h1V237.6h-1zM380 234.8h1V237.6h-1zM381 234.8h1V237.6h-1zM382 234.8h1V237.6h-1zM383 234.8h1V237.6h-1zM384 234.8h1V237.6h-1zM385 234.8h1V237.6h-1zM386 234.8h1V237.6h-1zM387 234.8h1V237.6h-1zM388 234.8h1V237.6h-1zM389 234.8h1V237.6h-1zM390 234.8h1V237.6h-1zM391 234.8h1V237.6h-1zM392 234.8h1V237.6h-1zM393 234.8h1V237.6h-1zM394 234.8h1V237.6h-1zM395 234.8h1V237.6h-1zM396 234.8h1V237.6h-1zM397 234.8h1V237.6h-1zM398 234.8h1V237.6h-1zM399 234.8h1V237.6h-1zM400 234.8h1V237.6h-1zM401 234.8h1V237.6h-1zM402 234.8h1V237.6h-1zM403 234.8h1V237.6h-1zM404 234.8h1V237.6h-1zM405 234.8h1V237.6h-1zM406 234.8h1V237.6h-1zM407 234.8h1V237.6h-1zM408 234.8h1V237.6h-1zM409 234.8h1V237.6h-1zM410 234.8h1V237.6h-1zM411 234.8h1V237.6h-1zM412 234.8h1V237.6h-1zM413 234.8h1V237.6h-1zM414 234.8h1V237.6h-1zM415 234.8h1V237.6h-1zM416 234.8h1V237.6h-1zM417 234.8h1V237.6h-1zM418 234.8h1V237.6h-1zM419 234.8h1V237.6h-1zM420 234.8h1V237.6h-1zM421 234.8h1V237.6h-1zM422 234.8h1V237.6h-1zM423 234.8h1V237.6h-1zM424 234.8h1V237.6h-1zM425 234.8h1V237.6h-1zM426 234.8h1V237.6h-1zM427 234.8h1V237.6h-1zM428 234.8h1V237.6h-1zM429 234.8h1V237.6h-1zM430 234.8h1V237.6h-1zM431 234.8h1V237.6h-1zM432 234.8h1V237.6h-1zM433 234.8h1V237.6h-1zM434 234.8h1V237.6h-1zM435 234.8h1V237.6h-1zM436 234.8h1V237.6h-1zM437 234.8h1V237.6h-1zM438 234.8h1V237.6h-1zM439 234.8h1V237.6h-1zM440 234.8h1V237.6h-1zM441 234.8h1V237.6h-1zM442 234.8h1V237.6h-1zM443 234.8h1V237.6h-1zM444 234.8h1V237.6h-1zM445 234.8h1V237.6h-1zM446 234.8h1V237.6h-1zM447 234.8h1V237.6h-1zM448 234.8h1V237.6h-1zM449 234.8h1V237.6h-1zM450 234.8h1V237.6h-1zM451 234.8h1V237.6h-1zM452 234.8h1V237.6h-1zM453 234.8h1V237.6h-1zM454 234.8h1V237.6h-1zM455 234.8h1V237.6h-1zM456 234.8h1V237.6h-1zM457 234.8h1V237.6h-1zM458 234.8h1V237.6h-1zM459 234.8h1V237.6h-1zM460 234.8h1V237.6h-1zM461 234.8h1V237.6h-1zM462 234.8h1V237.6h-1zM463 234.8h1V237.6h-1zM464 234.8h1V237.6h-1zM465 234.8h1V237.6h-1zM466 234.8h1V237.6h-1zM467 234.8h1V237.6h-1zM468 234.8h1V237.6h-1zM469 234.8h1V237.6h-1zM470 234.8h1V237.6h-1zM471 234.8h1V237.6h-1zM472 234.8h1V237.6h-1zM473 234.8h1V237.6h-1zM474 234.8h1V237.6h-1zM475 234.8h1V237.6h-1zM476 234.8h1V237.6h-1zM477 234.8h1V237.6h-1zM478 234.8h1V237.6h-1zM479 234.8h1V237.6h-1zM480 234.8h1V237.6h-1zM481 234.8h1V237.6h-1zM482 234.8h1V237.6h-1zM483 234.8h1V237.6h-1zM484 234.8h1V237.6h-1zM485 234.8h1V237.6h-1zM486 234.8h1V237.6h-1zM487 234.8h1V237.6h-1zM488 234.8h1V237.6h-1zM489 234.8h1V237.6h-1zM490 234.8h1V237.6h-1zM491 234.8h1V237.6h-1zM492 234.8h1V237.6h-1zM493 234.8h1V237.6h-1zM494 234.8h1V237.6h-1zM495 234.8h1V237.6h-1zM496 234.8h1V237.6h-1zM497 234.8h1V237.6h-1zM498 234.8h1V237.6h-1zM499 234.8h1V237.6h-1zM500 234.8h1V237.6h-1zM501 234.8h1V237.6h-1z"/>
<path fill="#fbbe7e" d="M197 243.33h1V245.83h-1zM198 242h1V244.5h-1zM199 240.67h1V243.17h-1zM200 239.33h1V241.83h-1zM215 234.8h1V246.4h-1zM216 234.8h1V249.96h-1zM217 234.8h1V246.85h-1zM222 239.5h1V258.6h-1zM223 239.5h1V258.6h-1zM224 239.5h1V258.6h-1zM225 239.5h1V258.6h-1zM226 239.5h1V258.6h-1zM227 239.5h1V258.6h-1zM228 239.5h1V258.6h-1zM229 239.5h1V274.73h-1zM230 239.5h1V276.79h-1zM231 239.5h1V275.02h-1zM232 239.5h1V274.89h-1zM233 239.5h1V273.99h-1zM234 234.8h1V290h-1zM235 234.8h1V290h-1zM236 234.8h1V290h-1zM237 234.8h1V290h-1zM238 234.8h1V290h-1zM239 234.8h1V290h-1zM240 235.4h1V266.25h-1zM241 235.4h1V249.55h-1zM242 235.4h1V274.31h-1zM243 235.4h1V248.95h-1zM244 235.4h1V255.2h-1zM245 235.4h1V248.35h-1zM246 235.4h1V268.06h-1zM247 235.4h1V272.6h-1zM248 235.4h1V247.45h-1zM249 235.4h1V252.54h-1zM250 234.8h1V271.98h-1zM251 234.8h1V265.71h-1zM252 234.8h1V268.11h-1zM253 234.8h1V245.83h-1zM254 234.8h1V252.53h-1zM255 234.8h1V245.17h-1zM256 234.8h1V253.09h-1zM257 234.8h1V244.5h-1zM258 234.8h1V244.17h-1zM259 234.8h1V243.83h-1zM260 234.8h1V267.6h-1zM261 234.8h1V246.55h-1zM262 234.8h1V256h-1zM263 234.8h1V249.3h-1zM264 234.8h1V257.91h-1zM265 234.8h1V252.58h-1zM266 234.8h1V240.75h-1zM267 234.8h1V240.25h-1zM268 234.8h1V239.75h-1zM269 234.8h1V239.25h-1zM270 234.8h1V238.98h-1zM271 234.8h1V241.22h-1zM272 234.8h1V248.18h-1zM273 234.8h1V238.86h-1zM274 234.8h1V238.82h-1zM275 234.8h1V245.87h-1zM276 234.8h1V238.74h-1zM277 234.8h1V238.7h-1zM278 234.8h1V248.65h-1zM279 234.8h1V244.99h-1zM280 234.8h1V238.58h-1zM281 234.8h1V238.54h-1zM282 234.8h1V238.5h-1zM283 234.8h1V238.46h-1zM284 234.8h1V238.42h-1zM285 234.8h1V238.38h-1zM286 234.8h1V238.34h-1zM287 234.8h1V238.3h-1zM288 234.8h1V238.26h-1zM289 234.8h1V238.22h-1zM290 234.8h1V238.18h-1zM291 234.8h1V238.14h-1zM292 234.8h1V238.1h-1zM293 234.8h1V238.06h-1zM294 234.8h1V238.02h-1zM295 234.8h1V270.15h-1zM296 234.8h1V271.75h-1zM297 236.8h1V273.33h-1zM298 236.8h1V273.74h-1zM299 236.8h1V277.42h-1zM300 236.8h1V280.65h-1zM301 236.8h1V282.64h-1zM302 236.8h1V284.52h-1zM303 236.8h1V285.5h-1zM304 236.8h1V288.21h-1zM305 236.8h1V289.41h-1zM306 236.8h1V292.82h-1zM307 236.8h1V290.02h-1zM308 234.8h1V273.75h-1zM309 234.8h1V272.25h-1zM310 234.8h1V277.34h-1zM311 234.8h1V286.55h-1zM312 234.8h1V285.69h-1zM313 234.8h1V276.44h-1zM314 234.8h1V273.85h-1zM315 234.8h1V273.74h-1zM316 234.8h1V277.84h-1zM317 234.8h1V285.76h-1zM318 236.8h1V288.27h-1zM319 236.8h1V289.53h-1zM320 236.8h1V288.4h-1zM321 236.8h1V283.53h-1zM322 234.8h1V279.61h-1zM323 234.8h1V280.51h-1zM324 234.8h1V285.72h-1zM325 234.8h1V289.98h-1zM326 234.8h1V291.33h-1zM327 234.8h1V291.68h-1zM328 234.8h1V290.98h-1zM329 234.8h1V295h-1zM330 234.8h1V295.11h-1zM331 234.8h1V295.85h-1zM332 234.8h1V297h-1zM333 234.8h1V297h-1zM334 234.8h1V297h-1zM335 234.8h1V295.86h-1zM336 234.8h1V296.5h-1zM337 234.8h1V295.74h-1zM338 234.8h1V295.24h-1zM339 234.8h1V296.35h-1zM340 234.8h1V297h-1zM341 234.8h1V297h-1zM342 234.8h1V297h-1zM343 234.8h1V297h-1zM344 234.8h1V295.89h-1zM345 234.8h1V295.6h-1zM346 234.8h1V296.49h-1zM347 234.8h1V296h-1zM348 234.8h1V295.85h-1zM349 234.8h1V296.49h-1zM350 234.8h1V297h-1zM351 234.8h1V296.81h-1zM352 234.8h1V296.31h-1zM353 234.8h1V297h-1zM354 234.8h1V297h-1zM355 234.8h1V296.84h-1zM356 234.8h1V274h-1zM356 281h1V290h-1zM357 234.8h1V274h-1zM357 281h1V290h-1zM358 234.8h1V274h-1zM358 281h1V290h-1zM359 234.8h1V297h-1zM360 234.8h1V246h-1zM360 266.3h1V285h-1zM361 234.8h1V246h-1zM361 266.13h1V285h-1zM362 234.8h1V246h-1zM362 269.49h1V285h-1zM363 234.8h1V246h-1zM363 266.17h1V285h-1zM364 234.8h1V246h-1zM364 268.83h1V285h-1z"/>
<path fill="#ee8a46" d="M222 258.6h1V269h-1zM223 258.6h1V269h-1zM224 258.6h1V269h-1zM225 258.6h1V269h-1zM226 258.6h1V269h-1zM227 258.6h1V269h-1zM228 258.6h1V269h-1z"/>
<path fill="#f28d3c" d="M240 266.25h1V287.97h-1zM241 249.55h1V288.49h-1zM242 274.31h1V288.93h-1zM243 248.95h1V290.47h-1zM244 255.2h1V290.63h-1zM245 248.35h1V288h-1zM246 268.06h1V290.76h-1zM247 272.6h1V290.53h-1zM248 247.45h1V297h-1zM249 252.54h1V297h-1zM250 271.98h1V297h-1zM251 265.71h1V297h-1zM252 268.11h1V297h-1zM253 245.83h1V297h-1zM254 252.53h1V297h-1zM255 245.17h1V297h-1zM256 253.09h1V297h-1zM257 244.5h1V297h-1zM258 244.17h1V297h-1zM259 243.83h1V297h-1zM260 267.6h1V297h-1zM261 246.55h1V297h-1zM262 256h1V297h-1zM263 249.3h1V297h-1zM264 257.91h1V297h-1zM265 252.58h1V297h-1zM266 240.75h1V297h-1zM267 240.25h1V297h-1zM268 239.75h1V297h-1zM269 239.25h1V297h-1zM270 238.98h1V295.3h-1zM271 241.22h1V295.3h-1zM272 248.18h1V295.3h-1zM273 238.86h1V295.3h-1zM274 238.82h1V295.3h-1zM275 245.87h1V295.3h-1zM276 238.74h1V295.3h-1zM277 238.7h1V295.3h-1zM278 248.65h1V295.3h-1zM279 244.99h1V295.3h-1zM280 238.58h1V295.3h-1zM281 238.54h1V295.3h-1zM282 238.5h1V295.3h-1zM283 238.46h1V295.3h-1zM284 238.42h1V295.3h-1zM285 238.38h1V295.3h-1zM286 238.34h1V295.3h-1zM287 238.3h1V295.3h-1zM288 238.26h1V295.3h-1zM289 238.22h1V295.3h-1zM290 238.18h1V295.3h-1zM291 238.14h1V295.3h-1zM292 238.1h1V295.3h-1zM293 238.06h1V295.3h-1zM294 238.02h1V295.3h-1zM295 270.15h1V294.5h-1zM296 271.75h1V294.5h-1zM297 273.33h1V294.5h-1zM298 273.74h1V294.5h-1zM299 277.42h1V294.5h-1zM300 280.65h1V294.5h-1zM301 282.64h1V294.5h-1zM302 284.52h1V294.5h-1zM303 285.5h1V294.5h-1zM304 288.21h1V294.5h-1zM305 289.41h1V294.5h-1zM306 292.82h1V297h-1zM307 290.02h1V297h-1zM308 273.75h1V297h-1zM309 272.25h1V297h-1zM310 277.34h1V297h-1zM311 286.55h1V297h-1zM312 285.69h1V297h-1zM313 276.44h1V297h-1zM314 273.85h1V297h-1zM315 273.74h1V297h-1zM316 277.84h1V297h-1zM317 285.76h1V297h-1zM318 288.27h1V297h-1zM319 289.53h1V297h-1zM320 288.4h1V297h-1zM321 283.53h1V297h-1zM322 279.61h1V297h-1zM323 280.51h1V297h-1zM324 285.72h1V297h-1zM325 289.98h1V297h-1zM326 291.33h1V297h-1zM327 291.68h1V297h-1zM328 290.98h1V297h-1zM329 295h1V297h-1zM330 295.11h1V297h-1zM331 295.85h1V297h-1zM335 295.86h1V297h-1zM336 296.5h1V297h-1zM337 295.74h1V297h-1zM338 295.24h1V297h-1zM339 296.35h1V297h-1zM344 295.89h1V297h-1zM345 295.6h1V297h-1zM346 296.49h1V297h-1zM347 296h1V297h-1zM348 295.85h1V297h-1zM349 296.49h1V297h-1zM351 296.81h1V297h-1zM352 296.31h1V297h-1zM355 296.84h1V297h-1z"/>
<path fill="#c6e2b4" d="M365 244.17h1V293.28h-1zM366 244.7h1V283.67h-1zM367 243.13h1V280.59h-1zM368 242.86h1V281.97h-1zM369 243.37h1V278.77h-1zM370 254.91h1V285.29h-1zM371 255.87h1V286.54h-1zM372 256.37h1V289.39h-1zM373 257.1h1V289.54h-1zM374 255.28h1V288.65h-1zM375 244.23h1V285.22h-1zM376 244.93h1V292.3h-1zM377 244.23h1V289.08h-1zM378 244.63h1V293.28h-1zM379 245.05h1V292.53h-1zM380 245.61h1V290.54h-1zM381 245.7h1V295.41h-1zM382 239.01h1V296.14h-1zM383 240.53h1V289.42h-1zM384 239.89h1V294.38h-1zM385 240.98h1V292.03h-1zM386 240.17h1V295.84h-1zM387 240.71h1V295.71h-1zM388 238.41h1V292.36h-1zM389 237.79h1V292.28h-1zM390 239.26h1V290.85h-1zM391 239.02h1V286.28h-1zM392 255.99h1V293.45h-1zM393 256.25h1V290.71h-1zM394 255.88h1V290.01h-1zM395 256.25h1V296.08h-1zM396 254.98h1V289.24h-1zM397 255.28h1V292.45h-1zM398 256.14h1V290.89h-1zM399 254.44h1V292.78h-1zM400 254.6h1V292.87h-1zM401 254.94h1V290.02h-1zM402 256.5h1V289.6h-1zM403 255.04h1V293.9h-1zM404 256.5h1V297h-1zM405 240.45h1V297h-1zM406 239.98h1V297h-1zM407 239.01h1V294.49h-1zM408 240.06h1V295.86h-1zM409 240.55h1V297h-1zM410 238.05h1V297h-1zM411 238.14h1V296.81h-1zM412 237.71h1V297h-1zM413 238.96h1V295.87h-1zM414 238.84h1V297h-1zM415 238.06h1V297h-1zM416 237.6h1V297h-1zM417 238.01h1V297h-1zM418 237.6h1V297h-1zM419 238.04h1V297h-1zM420 238.72h1V297h-1zM421 237.98h1V297h-1zM422 237.6h1V297h-1zM423 237.79h1V297h-1zM424 247.02h1V286.42h-1zM425 245.94h1V276.25h-1zM426 246.76h1V277.8h-1zM427 245.56h1V276.38h-1zM428 247.02h1V276.26h-1zM429 244.85h1V276.39h-1zM430 246.45h1V273.14h-1zM431 246.29h1V268.38h-1zM432 237.6h1V267.52h-1zM433 237.6h1V265.89h-1zM434 237.7h1V264.58h-1zM435 237.6h1V263.66h-1zM436 240.33h1V263.81h-1zM437 240.27h1V263.96h-1zM438 240.58h1V263.37h-1zM439 239.56h1V261.88h-1zM440 239.32h1V254.5h-1zM441 239.12h1V244.47h-1zM442 239.92h1V244.17h-1zM443 240.85h1V261.59h-1zM444 241.57h1V265.63h-1zM445 242.2h1V263.98h-1zM446 241.91h1V244.92h-1zM447 240.63h1V252.78h-1zM448 241.58h1V244.91h-1zM449 240.69h1V269.03h-1zM450 242.8h1V254.94h-1zM451 242.79h1V244.75h-1zM452 241.38h1V244.75h-1zM453 241.71h1V271.75h-1zM454 241.19h1V268.24h-1zM455 244.77h1V265.12h-1zM456 249.94h1V271.89h-1zM457 249.31h1V269.03h-1zM458 250.16h1V271.55h-1zM459 249.67h1V272.17h-1zM460 249.91h1V271.12h-1zM461 248.77h1V268.75h-1zM462 244.33h1V269.99h-1zM463 241.32h1V245.52h-1zM464 241.51h1V244.93h-1zM465 241.91h1V244.38h-1zM466 242.11h1V244.98h-1zM467 242.85h1V243.85h-1zM468 242.21h1V244.06h-1zM469 240.49h1V243.92h-1zM470 240.54h1V244.02h-1zM471 241.55h1V244.52h-1zM472 241.53h1V245.47h-1zM473 242.04h1V243.62h-1zM474 241.86h1V243.54h-1zM475 240.35h1V262.29h-1zM476 241.37h1V243.54h-1zM477 240.84h1V244.46h-1zM478 239.88h1V243.96h-1zM479 238.75h1V243.94h-1zM480 237.6h1V252.24h-1zM481 237.6h1V244.85h-1zM482 238.75h1V272.59h-1zM483 238.87h1V243.45h-1zM484 237.6h1V244.24h-1zM485 237.6h1V244.32h-1zM486 238.33h1V244.19h-1zM487 238.56h1V264.93h-1zM488 237.69h1V262.19h-1zM489 237.6h1V244.09h-1zM490 237.69h1V243.71h-1zM491 237.6h1V244.73h-1zM492 238.99h1V245.06h-1zM493 237.6h1V243.37h-1zM494 238.48h1V244.37h-1zM495 237.6h1V244.48h-1zM496 238.02h1V244.36h-1zM497 237.6h1V243.57h-1zM498 238.8h1V254.03h-1zM499 237.6h1V243.89h-1zM500 237.6h1V253.84h-1zM501 238.22h1V244.11h-1z"/>
<line x1="0" y1="313.6" x2="520" y2="313.6" stroke="#c8c8c8" stroke-width="0.8"/>
<rect x="52" y="306.8" width="8.3" height="8" fill="#c9b3dc"/>
<rect x="60.3" y="306.8" width="37.2" height="8" fill="#984ea3"/>
<rect x="97.5" y="306.8" width="58" height="8" fill="#45b5d6"/>
<rect x="155.5" y="306.8" width="210.8" height="8" fill="#f9b46f"/>
<rect x="366.3" y="306.8" width="136.7" height="8" fill="#44a544"/>
<rect x="155" y="298.5" width="1.6" height="8" fill="#2c3f7a"/>
<rect x="163.3" y="298.5" width="0.8" height="8" fill="#7886bb"/>
<rect x="163.3" y="306.8" width="0.8" height="8" fill="#fde6cc"/>
<rect x="183.8" y="298.5" width="0.8" height="8" fill="#7886bb"/>
<rect x="183.8" y="306.8" width="0.8" height="8" fill="#fde6cc"/>
<rect x="355.3" y="298.5" width="2.4" height="16" fill="#7a8fb0"/>
<line x1="52.6" y1="234.8" x2="52.6" y2="297.0" stroke="#2a2220" stroke-width="0.8"/>
<line x1="52.6" y1="297.0" x2="52.6" y2="306.8" stroke="#8a8a8a" stroke-width="0.7"/>
<line x1="52.6" y1="306.8" x2="52.6" y2="314" stroke="#5a4a40" stroke-width="0.8"/>
<line x1="60.3" y1="234.8" x2="60.3" y2="297.0" stroke="#2a2220" stroke-width="0.8"/>
<line x1="60.3" y1="297.0" x2="60.3" y2="306.8" stroke="#8a8a8a" stroke-width="0.7"/>
<line x1="60.3" y1="306.8" x2="60.3" y2="314" stroke="#5a4a40" stroke-width="0.8"/>
<line x1="176.3" y1="234.8" x2="176.3" y2="297.0" stroke="#2a2220" stroke-width="0.8"/>
<line x1="176.3" y1="297.0" x2="176.3" y2="306.8" stroke="#8a8a8a" stroke-width="0.7"/>
<line x1="176.3" y1="306.8" x2="176.3" y2="314" stroke="#5a4a40" stroke-width="0.8"/>
<line x1="197.5" y1="234.8" x2="197.5" y2="297.0" stroke="#2a2220" stroke-width="0.8"/>
<line x1="197.5" y1="297.0" x2="197.5" y2="306.8" stroke="#8a8a8a" stroke-width="0.7"/>
<line x1="197.5" y1="306.8" x2="197.5" y2="314" stroke="#5a4a40" stroke-width="0.8"/>
<line x1="222.6" y1="234.8" x2="222.6" y2="297.0" stroke="#2a2220" stroke-width="0.8"/>
<line x1="222.6" y1="297.0" x2="222.6" y2="306.8" stroke="#8a8a8a" stroke-width="0.7"/>
<line x1="222.6" y1="306.8" x2="222.6" y2="314" stroke="#5a4a40" stroke-width="0.8"/>
<line x1="234.1" y1="234.8" x2="234.1" y2="297.0" stroke="#2a2220" stroke-width="0.8"/>
<line x1="234.1" y1="297.0" x2="234.1" y2="306.8" stroke="#8a8a8a" stroke-width="0.7"/>
<line x1="234.1" y1="306.8" x2="234.1" y2="314" stroke="#5a4a40" stroke-width="0.8"/>
<line x1="295.5" y1="234.8" x2="295.5" y2="297.0" stroke="#2a2220" stroke-width="0.8"/>
<line x1="295.5" y1="297.0" x2="295.5" y2="306.8" stroke="#8a8a8a" stroke-width="0.7"/>
<line x1="295.5" y1="306.8" x2="295.5" y2="314" stroke="#5a4a40" stroke-width="0.8"/>
<line x1="356.3" y1="234.8" x2="356.3" y2="297.0" stroke="#2a2220" stroke-width="0.8"/>
<line x1="356.3" y1="297.0" x2="356.3" y2="306.8" stroke="#8a8a8a" stroke-width="0.7"/>
<line x1="356.3" y1="306.8" x2="356.3" y2="314" stroke="#5a4a40" stroke-width="0.8"/>
<text x="48.3" y="312.1" font-size="8" fill="#222" text-anchor="end">Species</text>
</svg>
</body></html>
